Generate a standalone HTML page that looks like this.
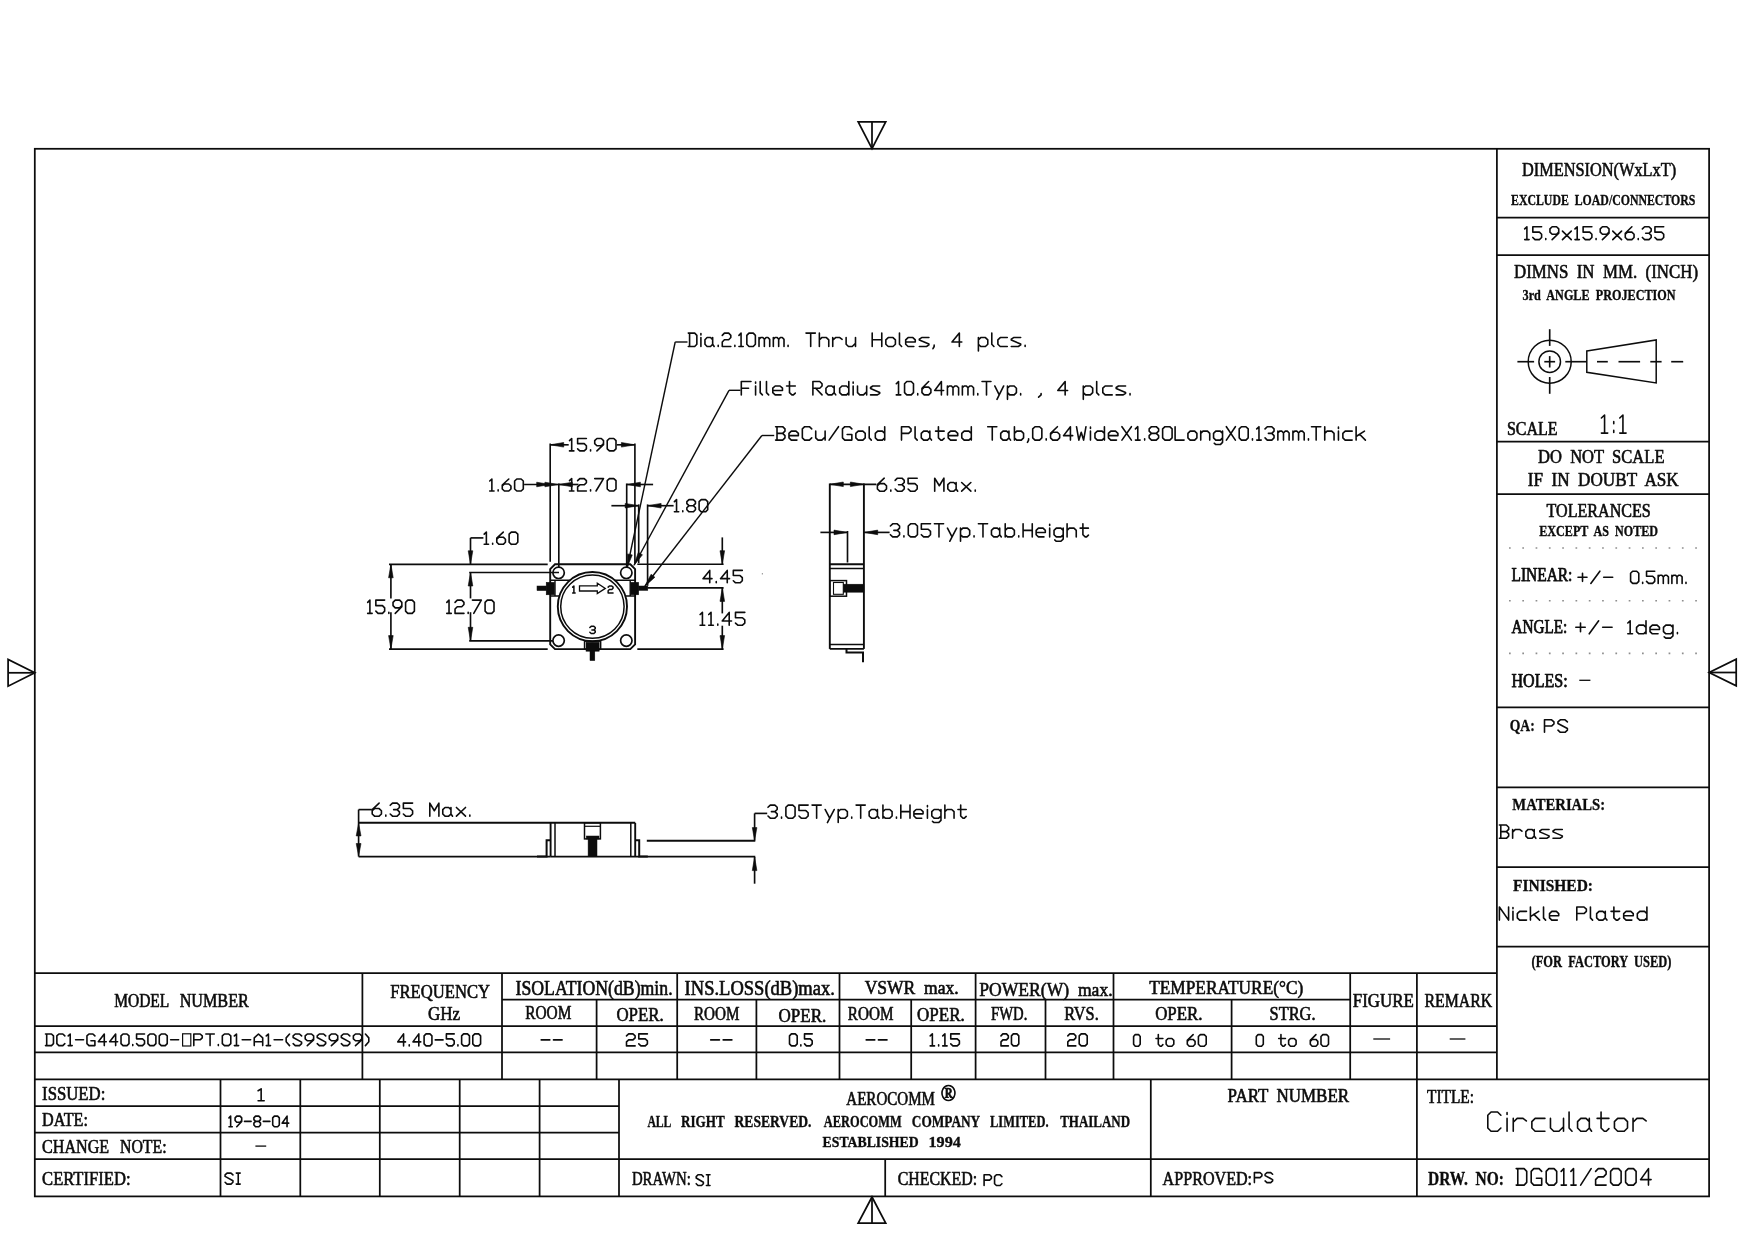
<!DOCTYPE html>
<html><head><meta charset="utf-8"><title>Circulator DG011/2004</title>
<style>
html,body{margin:0;padding:0;background:#fff;}
body{width:1754px;height:1240px;overflow:hidden;font-family:"Liberation Sans",sans-serif;}
svg{display:block;will-change:transform;}
svg line,svg polyline,svg polygon,svg rect,svg circle,svg path{stroke:#0c0c0c;}
svg text{white-space:pre;}
</style></head><body>
<svg width="1754" height="1240" viewBox="0 0 1754 1240">
<rect x="0" y="0" width="1754" height="1240" fill="#fff" stroke="none" style="stroke:none"/>
<rect x="34.8" y="148.8" width="1674.3" height="1047.6000000000001" fill="none" stroke-width="1.75"/>
<line x1="1496.9" y1="148.8" x2="1496.9" y2="1079.3" stroke-width="1.75" />
<line x1="1496.9" y1="217.7" x2="1709.1" y2="217.7" stroke-width="1.75" />
<line x1="1496.9" y1="255.1" x2="1709.1" y2="255.1" stroke-width="1.75" />
<line x1="1496.9" y1="441.5" x2="1709.1" y2="441.5" stroke-width="1.75" />
<line x1="1496.9" y1="494" x2="1709.1" y2="494" stroke-width="1.75" />
<line x1="1496.9" y1="707.3" x2="1709.1" y2="707.3" stroke-width="1.75" />
<line x1="1496.9" y1="787.3" x2="1709.1" y2="787.3" stroke-width="1.75" />
<line x1="1496.9" y1="867" x2="1709.1" y2="867" stroke-width="1.75" />
<line x1="1496.9" y1="946.7" x2="1709.1" y2="946.7" stroke-width="1.75" />
<line x1="1509" y1="548" x2="1700" y2="548" style="stroke:#8e8e8e" stroke-width="1.6" stroke-dasharray="1.7 11.6"/>
<line x1="1509" y1="600.8" x2="1700" y2="600.8" style="stroke:#8e8e8e" stroke-width="1.6" stroke-dasharray="1.7 11.6"/>
<line x1="1509" y1="653.4" x2="1700" y2="653.4" style="stroke:#8e8e8e" stroke-width="1.6" stroke-dasharray="1.7 11.6"/>
<polygon points="858.2,121.8 885.7,121.8 872,148.7" fill="none" stroke-width="1.75" />
<line x1="872" y1="121.8" x2="872" y2="148.7" stroke-width="1.75" />
<polygon points="858.2,1223.1 885.7,1223.1 872,1197" fill="none" stroke-width="1.75" />
<line x1="872" y1="1223.1" x2="872" y2="1197" stroke-width="1.75" />
<polygon points="8.1,659.4 8.1,686.2 34.8,672.8" fill="none" stroke-width="1.75" />
<line x1="8.1" y1="672.8" x2="34.8" y2="672.8" stroke-width="1.75" />
<polygon points="1736.2,659.1 1736.2,685.9 1709.1,672.5" fill="none" stroke-width="1.75" />
<line x1="1736.2" y1="672.5" x2="1709.1" y2="672.5" stroke-width="1.75" />
<line x1="34.8" y1="973" x2="1496.9" y2="973" stroke-width="1.75" />
<line x1="34.8" y1="1026.2" x2="1496.9" y2="1026.2" stroke-width="1.75" />
<line x1="34.8" y1="1052.4" x2="1496.9" y2="1052.4" stroke-width="1.75" />
<line x1="34.8" y1="1079.3" x2="1709.1" y2="1079.3" stroke-width="1.75" />
<line x1="502" y1="999.7" x2="1350.2" y2="999.7" stroke-width="1.75" />
<line x1="362.4" y1="973" x2="362.4" y2="1079.3" stroke-width="1.75" />
<line x1="502" y1="973" x2="502" y2="1079.3" stroke-width="1.75" />
<line x1="677.2" y1="973" x2="677.2" y2="1079.3" stroke-width="1.75" />
<line x1="839.5" y1="973" x2="839.5" y2="1079.3" stroke-width="1.75" />
<line x1="975.6" y1="973" x2="975.6" y2="1079.3" stroke-width="1.75" />
<line x1="1113.5" y1="973" x2="1113.5" y2="1079.3" stroke-width="1.75" />
<line x1="1350.2" y1="973" x2="1350.2" y2="1079.3" stroke-width="1.75" />
<line x1="1416.9" y1="973" x2="1416.9" y2="1079.3" stroke-width="1.75" />
<line x1="596.6" y1="999.7" x2="596.6" y2="1079.3" stroke-width="1.75" />
<line x1="756.4" y1="999.7" x2="756.4" y2="1079.3" stroke-width="1.75" />
<line x1="911.2" y1="999.7" x2="911.2" y2="1079.3" stroke-width="1.75" />
<line x1="1045.5" y1="999.7" x2="1045.5" y2="1079.3" stroke-width="1.75" />
<line x1="1231.6" y1="999.7" x2="1231.6" y2="1079.3" stroke-width="1.75" />
<line x1="34.8" y1="1106.2" x2="619" y2="1106.2" stroke-width="1.75" />
<line x1="34.8" y1="1132.5" x2="619" y2="1132.5" stroke-width="1.75" />
<line x1="34.8" y1="1159.2" x2="1709.1" y2="1159.2" stroke-width="1.75" />
<line x1="220.5" y1="1079.3" x2="220.5" y2="1196.4" stroke-width="1.75" />
<line x1="300.3" y1="1079.3" x2="300.3" y2="1196.4" stroke-width="1.75" />
<line x1="379.8" y1="1079.3" x2="379.8" y2="1196.4" stroke-width="1.75" />
<line x1="459.7" y1="1079.3" x2="459.7" y2="1196.4" stroke-width="1.75" />
<line x1="539.6" y1="1079.3" x2="539.6" y2="1196.4" stroke-width="1.75" />
<line x1="619" y1="1079.3" x2="619" y2="1196.4" stroke-width="1.75" />
<line x1="1150.8" y1="1079.3" x2="1150.8" y2="1196.4" stroke-width="1.75" />
<line x1="1416.9" y1="1079.3" x2="1416.9" y2="1196.4" stroke-width="1.75" />
<line x1="885.2" y1="1159.2" x2="885.2" y2="1196.4" stroke-width="1.75" />
<text x="114.2" y="1006.5" font-family="Liberation Serif, serif" font-size="18.93" textLength="55.1" lengthAdjust="spacingAndGlyphs" fill="#0c0c0c" stroke="#0c0c0c" stroke-width="0.62" stroke-linejoin="round">MODEL</text>
<text x="179.7" y="1006.5" font-family="Liberation Serif, serif" font-size="18.93" textLength="69.1" lengthAdjust="spacingAndGlyphs" fill="#0c0c0c" stroke="#0c0c0c" stroke-width="0.62" stroke-linejoin="round">NUMBER</text>
<text x="390.3" y="998" font-family="Liberation Serif, serif" font-size="19.54" textLength="99.7" lengthAdjust="spacingAndGlyphs" fill="#0c0c0c" stroke="#0c0c0c" stroke-width="0.62" stroke-linejoin="round">FREQUENCY</text>
<text x="427.9" y="1020.1" font-family="Liberation Serif, serif" font-size="19.54" textLength="32.2" lengthAdjust="spacingAndGlyphs" fill="#0c0c0c" stroke="#0c0c0c" stroke-width="0.62" stroke-linejoin="round">GHz</text>
<text x="515.5" y="994.9" font-family="Liberation Serif, serif" font-size="20.15" textLength="157.1" lengthAdjust="spacingAndGlyphs" fill="#0c0c0c" stroke="#0c0c0c" stroke-width="0.62" stroke-linejoin="round">ISOLATION(dB)min.</text>
<text x="525.2" y="1018.9" font-family="Liberation Serif, serif" font-size="18.93" textLength="46.2" lengthAdjust="spacingAndGlyphs" fill="#0c0c0c" stroke="#0c0c0c" stroke-width="0.62" stroke-linejoin="round">ROOM</text>
<text x="616.4" y="1021.3" font-family="Liberation Serif, serif" font-size="19.54" textLength="47.3" lengthAdjust="spacingAndGlyphs" fill="#0c0c0c" stroke="#0c0c0c" stroke-width="0.62" stroke-linejoin="round">OPER.</text>
<text x="684.6" y="994.8" font-family="Liberation Serif, serif" font-size="20.15" textLength="150.3" lengthAdjust="spacingAndGlyphs" fill="#0c0c0c" stroke="#0c0c0c" stroke-width="0.62" stroke-linejoin="round">INS.LOSS(dB)max.</text>
<text x="693.9" y="1020" font-family="Liberation Serif, serif" font-size="18.93" textLength="45.5" lengthAdjust="spacingAndGlyphs" fill="#0c0c0c" stroke="#0c0c0c" stroke-width="0.62" stroke-linejoin="round">ROOM</text>
<text x="778.5" y="1022.2" font-family="Liberation Serif, serif" font-size="19.54" textLength="47.8" lengthAdjust="spacingAndGlyphs" fill="#0c0c0c" stroke="#0c0c0c" stroke-width="0.62" stroke-linejoin="round">OPER.</text>
<text x="864.7" y="993.9" font-family="Liberation Serif, serif" font-size="18.93" textLength="93.9" lengthAdjust="spacingAndGlyphs" fill="#0c0c0c" stroke="#0c0c0c" stroke-width="0.62" stroke-linejoin="round">VSWR  max.</text>
<text x="847.8" y="1020" font-family="Liberation Serif, serif" font-size="18.93" textLength="45.6" lengthAdjust="spacingAndGlyphs" fill="#0c0c0c" stroke="#0c0c0c" stroke-width="0.62" stroke-linejoin="round">ROOM</text>
<text x="917.1" y="1020.7" font-family="Liberation Serif, serif" font-size="19.54" textLength="47.7" lengthAdjust="spacingAndGlyphs" fill="#0c0c0c" stroke="#0c0c0c" stroke-width="0.62" stroke-linejoin="round">OPER.</text>
<text x="979.3" y="996.3" font-family="Liberation Serif, serif" font-size="19.85" textLength="133.3" lengthAdjust="spacingAndGlyphs" fill="#0c0c0c" stroke="#0c0c0c" stroke-width="0.62" stroke-linejoin="round">POWER(W)  max.</text>
<text x="991" y="1020" font-family="Liberation Serif, serif" font-size="18.93" textLength="36.3" lengthAdjust="spacingAndGlyphs" fill="#0c0c0c" stroke="#0c0c0c" stroke-width="0.62" stroke-linejoin="round">FWD.</text>
<text x="1064.3" y="1020" font-family="Liberation Serif, serif" font-size="18.93" textLength="34.4" lengthAdjust="spacingAndGlyphs" fill="#0c0c0c" stroke="#0c0c0c" stroke-width="0.62" stroke-linejoin="round">RVS.</text>
<text x="1149.2" y="993.6" font-family="Liberation Serif, serif" font-size="19.85" textLength="154.0" lengthAdjust="spacingAndGlyphs" fill="#0c0c0c" stroke="#0c0c0c" stroke-width="0.62" stroke-linejoin="round">TEMPERATURE(°C)</text>
<text x="1155.2" y="1019.7" font-family="Liberation Serif, serif" font-size="18.63" textLength="47.3" lengthAdjust="spacingAndGlyphs" fill="#0c0c0c" stroke="#0c0c0c" stroke-width="0.62" stroke-linejoin="round">OPER.</text>
<text x="1269.6" y="1019.7" font-family="Liberation Serif, serif" font-size="18.63" textLength="45.9" lengthAdjust="spacingAndGlyphs" fill="#0c0c0c" stroke="#0c0c0c" stroke-width="0.62" stroke-linejoin="round">STRG.</text>
<text x="1352.8" y="1006.6" font-family="Liberation Serif, serif" font-size="18.93" textLength="61.1" lengthAdjust="spacingAndGlyphs" fill="#0c0c0c" stroke="#0c0c0c" stroke-width="0.62" stroke-linejoin="round">FIGURE</text>
<text x="1424.4" y="1006.6" font-family="Liberation Serif, serif" font-size="18.93" textLength="67.8" lengthAdjust="spacingAndGlyphs" fill="#0c0c0c" stroke="#0c0c0c" stroke-width="0.62" stroke-linejoin="round">REMARK</text>
<path d="M45.5 1045.6L51.48 1045.6L53.47 1043.67L53.47 1035.93L51.48 1034.0L45.5 1034.0 M46.7 1045.6L46.7 1034.0 M64.83 1035.93L62.83 1034.0L58.85 1034.0L56.86 1035.93L56.86 1043.67L58.85 1045.6L62.83 1045.6L64.83 1043.67 M68.21 1035.93L70.21 1034.0L70.21 1045.6 M68.21 1045.6L72.2 1045.6 M75.59 1039.8L83.56 1039.8 M94.91 1035.93L92.92 1034.0L88.94 1034.0L86.94 1035.93L86.94 1043.67L88.94 1045.6L94.91 1045.6L94.91 1040.77L90.93 1040.77 M104.28 1045.6L104.28 1034.0L98.3 1041.73L106.27 1041.73 M115.64 1045.6L115.64 1034.0L109.66 1041.73L117.63 1041.73 M123.01 1045.6L126.99 1045.6L128.99 1043.67L128.99 1035.93L126.99 1034.0L123.01 1034.0L121.02 1035.93L121.02 1043.67L123.01 1045.6 M132.77 1045.6L132.77 1044.54 M144.53 1034.0L136.56 1034.0L136.56 1038.83L142.54 1038.83L144.53 1040.77L144.53 1043.67L142.54 1045.6L138.55 1045.6L136.56 1043.67 M149.91 1045.6L153.89 1045.6L155.89 1043.67L155.89 1035.93L153.89 1034.0L149.91 1034.0L147.92 1035.93L147.92 1043.67L149.91 1045.6 M161.27 1045.6L165.25 1045.6L167.24 1043.67L167.24 1035.93L165.25 1034.0L161.27 1034.0L159.27 1035.93L159.27 1043.67L161.27 1045.6 M170.63 1039.8L178.6 1039.8" fill="none" stroke-width="1.6" stroke-linecap="round" stroke-linejoin="round"/>
<rect x="182.6" y="1033.8" width="8.2" height="12.2" fill="none" stroke-width="1.2"/>
<path d="M193.8 1045.6L193.8 1034.0L200.14 1034.0L202.25 1035.93L202.25 1037.87L200.14 1039.8L193.8 1039.8 M205.85 1034.0L214.3 1034.0 M210.07 1034.0L210.07 1045.6 M218.32 1045.6L218.32 1044.54 M224.45 1045.6L228.67 1045.6L230.79 1043.67L230.79 1035.93L228.67 1034.0L224.45 1034.0L222.33 1035.93L222.33 1043.67L224.45 1045.6 M234.38 1035.93L236.49 1034.0L236.49 1045.6 M234.38 1045.6L238.61 1045.6 M242.2 1039.8L250.65 1039.8 M254.25 1045.6L254.25 1037.87L258.47 1034.0L262.7 1037.87L262.7 1045.6 M254.25 1041.73L262.7 1041.73 M266.29 1035.93L268.41 1034.0L268.41 1045.6 M266.29 1045.6L270.52 1045.6 M274.11 1039.8L282.57 1039.8 M289.54 1034.0L286.16 1037.87L286.16 1041.73L289.54 1045.6 M301.59 1035.93L299.48 1034.0L295.25 1034.0L293.14 1035.93L293.14 1037.48L301.59 1042.12L301.59 1043.67L299.48 1045.6L295.25 1045.6L293.14 1043.67 M313.64 1038.83L311.52 1040.77L307.3 1040.77L305.18 1038.83L305.18 1035.93L307.3 1034.0L311.52 1034.0L313.64 1035.93L313.64 1039.8L307.3 1045.6 M325.68 1035.93L323.57 1034.0L319.34 1034.0L317.23 1035.93L317.23 1037.48L325.68 1042.12L325.68 1043.67L323.57 1045.6L319.34 1045.6L317.23 1043.67 M337.73 1038.83L335.62 1040.77L331.39 1040.77L329.28 1038.83L329.28 1035.93L331.39 1034.0L335.62 1034.0L337.73 1035.93L337.73 1039.8L331.39 1045.6 M349.78 1035.93L347.66 1034.0L343.44 1034.0L341.32 1035.93L341.32 1037.48L349.78 1042.12L349.78 1043.67L347.66 1045.6L343.44 1045.6L341.32 1043.67 M361.83 1038.83L359.71 1040.77L355.48 1040.77L353.37 1038.83L353.37 1035.93L355.48 1034.0L359.71 1034.0L361.83 1035.93L361.83 1039.8L355.48 1045.6 M365.42 1034.0L368.8 1037.87L368.8 1041.73L365.42 1045.6" fill="none" stroke-width="1.6" stroke-linecap="round" stroke-linejoin="round"/>
<path d="M403.57 1045.9L403.57 1033.9L397.7 1041.9L405.52 1041.9 M409.24 1045.9L409.24 1044.8 M418.82 1045.9L418.82 1033.9L412.95 1041.9L420.77 1041.9 M426.05 1045.9L429.96 1045.9L431.92 1043.9L431.92 1035.9L429.96 1033.9L426.05 1033.9L424.1 1035.9L424.1 1043.9L426.05 1045.9 M435.24 1039.9L443.06 1039.9 M454.2 1033.9L446.38 1033.9L446.38 1038.9L452.25 1038.9L454.2 1040.9L454.2 1043.9L452.25 1045.9L448.34 1045.9L446.38 1043.9 M457.92 1045.9L457.92 1044.8 M463.59 1045.9L467.5 1045.9L469.46 1043.9L469.46 1035.9L467.5 1033.9L463.59 1033.9L461.63 1035.9L461.63 1043.9L463.59 1045.9 M474.73 1045.9L478.64 1045.9L480.6 1043.9L480.6 1035.9L478.64 1033.9L474.73 1033.9L472.78 1035.9L472.78 1043.9L474.73 1045.9" fill="none" stroke-width="1.6" stroke-linecap="round" stroke-linejoin="round"/>
<path d="M541.2 1039.9L549.82 1039.9 M553.48 1039.9L562.1 1039.9" fill="none" stroke-width="1.6" stroke-linecap="round" stroke-linejoin="round"/>
<path d="M626.5 1035.9L628.65 1033.9L632.96 1033.9L635.12 1035.9L635.12 1037.9L632.96 1039.9L628.65 1039.9L626.5 1041.9L626.5 1045.9L635.12 1045.9 M647.4 1033.9L638.78 1033.9L638.78 1038.9L645.25 1038.9L647.4 1040.9L647.4 1043.9L645.25 1045.9L640.94 1045.9L638.78 1043.9" fill="none" stroke-width="1.6" stroke-linecap="round" stroke-linejoin="round"/>
<path d="M710.7 1039.9L719.44 1039.9 M723.16 1039.9L731.9 1039.9" fill="none" stroke-width="1.6" stroke-linecap="round" stroke-linejoin="round"/>
<path d="M791.42 1045.9L795.27 1045.9L797.19 1043.9L797.19 1035.9L795.27 1033.9L791.42 1033.9L789.5 1035.9L789.5 1043.9L791.42 1045.9 M800.85 1045.9L800.85 1044.8 M812.2 1033.9L804.51 1033.9L804.51 1038.9L810.28 1038.9L812.2 1040.9L812.2 1043.9L810.28 1045.9L806.43 1045.9L804.51 1043.9" fill="none" stroke-width="1.6" stroke-linecap="round" stroke-linejoin="round"/>
<path d="M866.2 1039.9L874.78 1039.9 M878.42 1039.9L887.0 1039.9" fill="none" stroke-width="1.6" stroke-linecap="round" stroke-linejoin="round"/>
<path d="M930.2 1035.9L932.36 1033.9L932.36 1045.9 M930.2 1045.9L934.53 1045.9 M938.64 1045.9L938.64 1044.8 M942.75 1035.9L944.91 1033.9L944.91 1045.9 M942.75 1045.9L947.07 1045.9 M959.4 1033.9L950.75 1033.9L950.75 1038.9L957.24 1038.9L959.4 1040.9L959.4 1043.9L957.24 1045.9L952.91 1045.9L950.75 1043.9" fill="none" stroke-width="1.6" stroke-linecap="round" stroke-linejoin="round"/>
<path d="M1001.0 1035.9L1002.84 1033.9L1006.51 1033.9L1008.34 1035.9L1008.34 1037.9L1006.51 1039.9L1002.84 1039.9L1001.0 1041.9L1001.0 1045.9L1008.34 1045.9 M1013.29 1045.9L1016.96 1045.9L1018.8 1043.9L1018.8 1035.9L1016.96 1033.9L1013.29 1033.9L1011.46 1035.9L1011.46 1043.9L1013.29 1045.9" fill="none" stroke-width="1.6" stroke-linecap="round" stroke-linejoin="round"/>
<path d="M1067.8 1035.9L1069.8 1033.9L1073.8 1033.9L1075.8 1035.9L1075.8 1037.9L1073.8 1039.9L1069.8 1039.9L1067.8 1041.9L1067.8 1045.9L1075.8 1045.9 M1081.2 1045.9L1085.2 1045.9L1087.2 1043.9L1087.2 1035.9L1085.2 1033.9L1081.2 1033.9L1079.2 1035.9L1079.2 1043.9L1081.2 1045.9" fill="none" stroke-width="1.6" stroke-linecap="round" stroke-linejoin="round"/>
<path d="M1135.25 1046.2L1138.55 1046.2L1140.2 1044.27L1140.2 1036.53L1138.55 1034.6L1135.25 1034.6L1133.6 1036.53L1133.6 1044.27L1135.25 1046.2" fill="none" stroke-width="1.6" stroke-linecap="round" stroke-linejoin="round"/>
<path d="M1158.3 1034.6L1158.3 1044.27L1160.21 1046.2L1161.36 1046.2L1162.89 1044.65 M1156.0 1038.47L1162.89 1038.47 M1168.06 1046.2L1171.89 1046.2L1173.8 1044.27L1173.8 1040.4L1171.89 1038.47L1168.06 1038.47L1166.14 1040.4L1166.14 1044.27L1168.06 1046.2" fill="none" stroke-width="1.6" stroke-linecap="round" stroke-linejoin="round"/>
<path d="M1187.3 1041.37L1189.25 1039.43L1193.15 1039.43L1195.09 1041.37L1195.09 1044.27L1193.15 1046.2L1189.25 1046.2L1187.3 1044.27L1187.3 1040.4L1193.15 1034.6 M1200.35 1046.2L1204.25 1046.2L1206.2 1044.27L1206.2 1036.53L1204.25 1034.6L1200.35 1034.6L1198.41 1036.53L1198.41 1044.27L1200.35 1046.2" fill="none" stroke-width="1.6" stroke-linecap="round" stroke-linejoin="round"/>
<path d="M1258.05 1046.2L1261.55 1046.2L1263.3 1044.27L1263.3 1036.53L1261.55 1034.6L1258.05 1034.6L1256.3 1036.53L1256.3 1044.27L1258.05 1046.2" fill="none" stroke-width="1.6" stroke-linecap="round" stroke-linejoin="round"/>
<path d="M1280.95 1034.6L1280.95 1044.27L1282.82 1046.2L1283.94 1046.2L1285.44 1044.65 M1278.7 1038.47L1285.44 1038.47 M1290.49 1046.2L1294.23 1046.2L1296.1 1044.27L1296.1 1040.4L1294.23 1038.47L1290.49 1038.47L1288.62 1040.4L1288.62 1044.27L1290.49 1046.2" fill="none" stroke-width="1.6" stroke-linecap="round" stroke-linejoin="round"/>
<path d="M1310.3 1041.37L1312.18 1039.43L1315.93 1039.43L1317.81 1041.37L1317.81 1044.27L1315.93 1046.2L1312.18 1046.2L1310.3 1044.27L1310.3 1040.4L1315.93 1034.6 M1322.87 1046.2L1326.62 1046.2L1328.5 1044.27L1328.5 1036.53L1326.62 1034.6L1322.87 1034.6L1320.99 1036.53L1320.99 1044.27L1322.87 1046.2" fill="none" stroke-width="1.6" stroke-linecap="round" stroke-linejoin="round"/>
<line x1="1373.3" y1="1039" x2="1390.1" y2="1039" stroke-width="1.3" />
<line x1="1449.7" y1="1039" x2="1465.4" y2="1039" stroke-width="1.3" />
<text x="42.1" y="1099.6" font-family="Liberation Serif, serif" font-size="18.93" textLength="63.2" lengthAdjust="spacingAndGlyphs" fill="#0c0c0c" stroke="#0c0c0c" stroke-width="0.62" stroke-linejoin="round">ISSUED:</text>
<path d="M258.1 1090.78L261.15 1088.8L261.15 1100.7 M258.1 1100.7L264.2 1100.7" fill="none" stroke-width="1.6" stroke-linecap="round" stroke-linejoin="round"/>
<text x="42.1" y="1126" font-family="Liberation Serif, serif" font-size="18.63" textLength="45.8" lengthAdjust="spacingAndGlyphs" fill="#0c0c0c" stroke="#0c0c0c" stroke-width="0.62" stroke-linejoin="round">DATE:</text>
<path d="M229.0 1117.87L230.65 1116.1L230.65 1126.7 M229.0 1126.7L232.3 1126.7 M241.7 1120.52L240.05 1122.28L236.75 1122.28L235.1 1120.52L235.1 1117.87L236.75 1116.1L240.05 1116.1L241.7 1117.87L241.7 1121.4L236.75 1126.7 M244.5 1121.4L251.1 1121.4 M255.55 1121.4L253.9 1119.63L253.9 1117.87L255.55 1116.1L258.85 1116.1L260.5 1117.87L260.5 1119.63L258.85 1121.4L255.55 1121.4L253.9 1123.17L253.9 1124.93L255.55 1126.7L258.85 1126.7L260.5 1124.93L260.5 1123.17L258.85 1121.4 M263.3 1121.4L269.9 1121.4 M274.35 1126.7L277.65 1126.7L279.3 1124.93L279.3 1117.87L277.65 1116.1L274.35 1116.1L272.7 1117.87L272.7 1124.93L274.35 1126.7 M287.05 1126.7L287.05 1116.1L282.1 1123.17L288.7 1123.17" fill="none" stroke-width="1.6" stroke-linecap="round" stroke-linejoin="round"/>
<text x="42.1" y="1153.1" font-family="Liberation Serif, serif" font-size="19.24" textLength="67.1" lengthAdjust="spacingAndGlyphs" fill="#0c0c0c" stroke="#0c0c0c" stroke-width="0.62" stroke-linejoin="round">CHANGE</text>
<text x="120" y="1153.1" font-family="Liberation Serif, serif" font-size="19.24" textLength="46.6" lengthAdjust="spacingAndGlyphs" fill="#0c0c0c" stroke="#0c0c0c" stroke-width="0.62" stroke-linejoin="round">NOTE:</text>
<line x1="255.4" y1="1146.1" x2="266.2" y2="1146.1" stroke-width="1.3" />
<text x="42.1" y="1184.9" font-family="Liberation Serif, serif" font-size="19.24" textLength="88.4" lengthAdjust="spacingAndGlyphs" fill="#0c0c0c" stroke="#0c0c0c" stroke-width="0.62" stroke-linejoin="round">CERTIFIED:</text>
<path d="M232.94 1174.93L230.98 1173.1L227.06 1173.1L225.1 1174.93L225.1 1176.4L232.94 1180.8L232.94 1182.27L230.98 1184.1L227.06 1184.1L225.1 1182.27 M236.28 1173.1L240.2 1173.1 M238.24 1173.1L238.24 1184.1 M236.28 1184.1L240.2 1184.1" fill="none" stroke-width="1.6" stroke-linecap="round" stroke-linejoin="round"/>
<text x="631.9" y="1184.9" font-family="Liberation Serif, serif" font-size="19.24" textLength="58.9" lengthAdjust="spacingAndGlyphs" fill="#0c0c0c" stroke="#0c0c0c" stroke-width="0.62" stroke-linejoin="round">DRAWN:</text>
<path d="M703.37 1176.58L701.58 1174.8L697.99 1174.8L696.2 1176.58L696.2 1178.01L703.37 1182.29L703.37 1183.72L701.58 1185.5L697.99 1185.5L696.2 1183.72 M706.42 1174.8L710.0 1174.8 M708.21 1174.8L708.21 1185.5 M706.42 1185.5L710.0 1185.5" fill="none" stroke-width="1.6" stroke-linecap="round" stroke-linejoin="round"/>
<text x="897.7" y="1184.8" font-family="Liberation Serif, serif" font-size="18.93" textLength="79.4" lengthAdjust="spacingAndGlyphs" fill="#0c0c0c" stroke="#0c0c0c" stroke-width="0.62" stroke-linejoin="round">CHECKED:</text>
<path d="M984.1 1185.5L984.1 1174.8L989.61 1174.8L991.44 1176.58L991.44 1178.37L989.61 1180.15L984.1 1180.15 M1001.9 1176.58L1000.06 1174.8L996.39 1174.8L994.56 1176.58L994.56 1183.72L996.39 1185.5L1000.06 1185.5L1001.9 1183.72" fill="none" stroke-width="1.6" stroke-linecap="round" stroke-linejoin="round"/>
<text x="1162.6" y="1184.8" font-family="Liberation Serif, serif" font-size="19.54" textLength="89.5" lengthAdjust="spacingAndGlyphs" fill="#0c0c0c" stroke="#0c0c0c" stroke-width="0.62" stroke-linejoin="round">APPROVED:</text>
<path d="M1254.4 1182.6L1254.4 1172.6L1260.03 1172.6L1261.91 1174.27L1261.91 1175.93L1260.03 1177.6L1254.4 1177.6 M1272.6 1174.27L1270.72 1172.6L1266.97 1172.6L1265.09 1174.27L1265.09 1175.6L1272.6 1179.6L1272.6 1180.93L1270.72 1182.6L1266.97 1182.6L1265.09 1180.93" fill="none" stroke-width="1.6" stroke-linecap="round" stroke-linejoin="round"/>
<text x="846.3" y="1104.7" font-family="Liberation Serif, serif" font-size="18.02" textLength="88.6" lengthAdjust="spacingAndGlyphs" fill="#0c0c0c" stroke="#0c0c0c" stroke-width="0.62" stroke-linejoin="round">AEROCOMM</text>
<text x="940.8" y="1101" font-family="Liberation Serif, serif" font-size="22.6" textLength="15.4" lengthAdjust="spacingAndGlyphs" fill="#0c0c0c" stroke="#0c0c0c" stroke-width="0.9" stroke-linejoin="round">®</text>
<text x="647.4" y="1126.9" font-family="Liberation Serif, serif" font-size="15.88" font-weight="bold" textLength="24.0" lengthAdjust="spacingAndGlyphs" fill="#0c0c0c" stroke="#0c0c0c" stroke-width="0.35" stroke-linejoin="round">ALL</text>
<text x="680.9" y="1126.9" font-family="Liberation Serif, serif" font-size="15.88" font-weight="bold" textLength="43.8" lengthAdjust="spacingAndGlyphs" fill="#0c0c0c" stroke="#0c0c0c" stroke-width="0.35" stroke-linejoin="round">RIGHT</text>
<text x="734.5" y="1126.9" font-family="Liberation Serif, serif" font-size="15.88" font-weight="bold" textLength="77.0" lengthAdjust="spacingAndGlyphs" fill="#0c0c0c" stroke="#0c0c0c" stroke-width="0.35" stroke-linejoin="round">RESERVED.</text>
<text x="823.8" y="1126.9" font-family="Liberation Serif, serif" font-size="15.88" font-weight="bold" textLength="77.9" lengthAdjust="spacingAndGlyphs" fill="#0c0c0c" stroke="#0c0c0c" stroke-width="0.35" stroke-linejoin="round">AEROCOMM</text>
<text x="911.8" y="1126.9" font-family="Liberation Serif, serif" font-size="15.88" font-weight="bold" textLength="68.4" lengthAdjust="spacingAndGlyphs" fill="#0c0c0c" stroke="#0c0c0c" stroke-width="0.35" stroke-linejoin="round">COMPANY</text>
<text x="990" y="1126.9" font-family="Liberation Serif, serif" font-size="15.88" font-weight="bold" textLength="58.5" lengthAdjust="spacingAndGlyphs" fill="#0c0c0c" stroke="#0c0c0c" stroke-width="0.35" stroke-linejoin="round">LIMITED.</text>
<text x="1060.2" y="1126.9" font-family="Liberation Serif, serif" font-size="15.88" font-weight="bold" textLength="69.9" lengthAdjust="spacingAndGlyphs" fill="#0c0c0c" stroke="#0c0c0c" stroke-width="0.35" stroke-linejoin="round">THAILAND</text>
<text x="822.6" y="1147.2" font-family="Liberation Serif, serif" font-size="15.57" font-weight="bold" textLength="96.0" lengthAdjust="spacingAndGlyphs" fill="#0c0c0c" stroke="#0c0c0c" stroke-width="0.35" stroke-linejoin="round">ESTABLISHED</text>
<text x="928.5" y="1147.2" font-family="Liberation Serif, serif" font-size="15.57" font-weight="bold" textLength="32.3" lengthAdjust="spacingAndGlyphs" fill="#0c0c0c" stroke="#0c0c0c" stroke-width="0.35" stroke-linejoin="round">1994</text>
<text x="1227.5" y="1101.7" font-family="Liberation Serif, serif" font-size="18.32" textLength="121.6" lengthAdjust="spacingAndGlyphs" fill="#0c0c0c" stroke="#0c0c0c" stroke-width="0.62" stroke-linejoin="round">PART  NUMBER</text>
<text x="1427" y="1102.8" font-family="Liberation Serif, serif" font-size="18.63" textLength="47" lengthAdjust="spacingAndGlyphs" fill="#0c0c0c" stroke="#0c0c0c" stroke-width="0.62" stroke-linejoin="round">TITLE:</text>
<path d="M1500.86 1115.2L1497.59 1112.0L1491.06 1112.0L1487.8 1115.2L1487.8 1128.0L1491.06 1131.2L1497.59 1131.2L1500.86 1128.0 M1507.06 1131.2L1507.06 1118.4 M1507.06 1114.56L1507.06 1112.64 M1513.26 1118.4L1513.26 1131.2 M1513.26 1122.24L1517.18 1118.4L1523.05 1118.4L1526.31 1120.96 M1544.92 1118.4L1535.13 1118.4L1531.86 1121.6L1531.86 1128.0L1535.13 1131.2L1544.92 1131.2 M1550.47 1118.4L1550.47 1128.0L1553.73 1131.2L1558.95 1131.2L1563.52 1126.72 M1563.52 1118.4L1563.52 1131.2 M1569.07 1112.0L1569.07 1128.0L1572.01 1131.2 M1589.31 1121.6L1586.04 1118.4L1580.82 1118.4L1577.56 1121.6L1577.56 1128.0L1580.82 1131.2L1586.04 1131.2L1589.31 1128.0 M1589.31 1118.4L1589.31 1128.0L1591.59 1131.2 M1601.06 1112.0L1601.06 1128.0L1604.32 1131.2L1606.28 1131.2L1608.89 1128.64 M1597.14 1118.4L1608.89 1118.4 M1617.7 1131.2L1624.23 1131.2L1627.5 1128.0L1627.5 1121.6L1624.23 1118.4L1617.7 1118.4L1614.44 1121.6L1614.44 1128.0L1617.7 1131.2 M1633.04 1118.4L1633.04 1131.2 M1633.04 1122.24L1636.96 1118.4L1642.84 1118.4L1646.1 1120.96" fill="none" stroke-width="1.6" stroke-linecap="round" stroke-linejoin="round"/>
<text x="1428.1" y="1184.8" font-family="Liberation Serif, serif" font-size="19.24" font-weight="bold" textLength="75.7" lengthAdjust="spacingAndGlyphs" fill="#0c0c0c" stroke="#0c0c0c" stroke-width="0.35" stroke-linejoin="round">DRW.  NO:</text>
<path d="M1516.2 1185.1L1524.09 1185.1L1526.72 1182.35L1526.72 1171.35L1524.09 1168.6L1516.2 1168.6 M1517.78 1185.1L1517.78 1168.6 M1541.71 1171.35L1539.08 1168.6L1533.82 1168.6L1531.19 1171.35L1531.19 1182.35L1533.82 1185.1L1541.71 1185.1L1541.71 1178.23L1536.45 1178.23 M1548.81 1185.1L1554.07 1185.1L1556.7 1182.35L1556.7 1171.35L1554.07 1168.6L1548.81 1168.6L1546.18 1171.35L1546.18 1182.35L1548.81 1185.1 M1561.17 1171.35L1563.8 1168.6L1563.8 1185.1 M1561.17 1185.1L1566.43 1185.1 M1570.9 1171.35L1573.53 1168.6L1573.53 1185.1 M1570.9 1185.1L1576.16 1185.1 M1580.63 1185.1L1591.14 1168.6 M1595.61 1171.35L1598.24 1168.6L1603.5 1168.6L1606.13 1171.35L1606.13 1174.1L1603.5 1176.85L1598.24 1176.85L1595.61 1179.6L1595.61 1185.1L1606.13 1185.1 M1613.23 1185.1L1618.49 1185.1L1621.12 1182.35L1621.12 1171.35L1618.49 1168.6L1613.23 1168.6L1610.6 1171.35L1610.6 1182.35L1613.23 1185.1 M1628.22 1185.1L1633.48 1185.1L1636.11 1182.35L1636.11 1171.35L1633.48 1168.6L1628.22 1168.6L1625.59 1171.35L1625.59 1182.35L1628.22 1185.1 M1648.47 1185.1L1648.47 1168.6L1640.58 1179.6L1651.1 1179.6" fill="none" stroke-width="1.6" stroke-linecap="round" stroke-linejoin="round"/>
<text x="1522" y="176.4" font-family="Liberation Serif, serif" font-size="19.69" textLength="154.1" lengthAdjust="spacingAndGlyphs" fill="#0c0c0c" stroke="#0c0c0c" stroke-width="0.62" stroke-linejoin="round">DIMENSION(WxLxT)</text>
<text x="1511" y="204.8" font-family="Liberation Serif, serif" font-size="15.57" font-weight="bold" textLength="184.4" lengthAdjust="spacingAndGlyphs" fill="#0c0c0c" stroke="#0c0c0c" stroke-width="0.35" stroke-linejoin="round">EXCLUDE  LOAD/CONNECTORS</text>
<path d="M1524.7 228.93L1526.9 226.8L1526.9 239.6 M1524.7 239.6L1529.09 239.6 M1541.61 226.8L1532.82 226.8L1532.82 232.13L1539.41 232.13L1541.61 234.27L1541.61 237.47L1539.41 239.6L1535.02 239.6L1532.82 237.47 M1545.78 239.6L1545.78 238.43 M1558.74 232.13L1556.54 234.27L1552.15 234.27L1549.95 232.13L1549.95 228.93L1552.15 226.8L1556.54 226.8L1558.74 228.93L1558.74 233.2L1552.15 239.6 M1562.47 239.6L1571.25 231.07 M1562.47 231.07L1571.25 239.6 M1574.99 228.93L1577.18 226.8L1577.18 239.6 M1574.99 239.6L1579.38 239.6 M1591.89 226.8L1583.11 226.8L1583.11 232.13L1589.7 232.13L1591.89 234.27L1591.89 237.47L1589.7 239.6L1585.31 239.6L1583.11 237.47 M1596.07 239.6L1596.07 238.43 M1609.02 232.13L1606.83 234.27L1602.43 234.27L1600.24 232.13L1600.24 228.93L1602.43 226.8L1606.83 226.8L1609.02 228.93L1609.02 233.2L1602.43 239.6 M1612.76 239.6L1621.54 231.07 M1612.76 231.07L1621.54 239.6 M1625.27 234.27L1627.47 232.13L1631.86 232.13L1634.06 234.27L1634.06 237.47L1631.86 239.6L1627.47 239.6L1625.27 237.47L1625.27 233.2L1631.86 226.8 M1638.23 239.6L1638.23 238.43 M1642.4 228.93L1644.6 226.8L1648.99 226.8L1651.18 228.93L1651.18 231.07L1648.99 233.2L1651.18 235.33L1651.18 237.47L1648.99 239.6L1644.6 239.6L1642.4 237.47 M1645.69 233.2L1648.99 233.2 M1663.7 226.8L1654.92 226.8L1654.92 232.13L1661.5 232.13L1663.7 234.27L1663.7 237.47L1661.5 239.6L1657.11 239.6L1654.92 237.47" fill="none" stroke-width="1.6" stroke-linecap="round" stroke-linejoin="round"/>
<text x="1514" y="278.3" font-family="Liberation Serif, serif" font-size="19.69" textLength="184" lengthAdjust="spacingAndGlyphs" fill="#0c0c0c" stroke="#0c0c0c" stroke-width="0.62" stroke-linejoin="round">DIMNS  IN  MM.  (INCH)</text>
<text x="1522.6" y="300.3" font-family="Liberation Serif, serif" font-size="14.96" font-weight="bold" textLength="153.0" lengthAdjust="spacingAndGlyphs" fill="#0c0c0c" stroke="#0c0c0c" stroke-width="0.35" stroke-linejoin="round">3rd  ANGLE  PROJECTION</text>
<text x="1506.9" y="434.5" font-family="Liberation Serif, serif" font-size="18.32" textLength="50.6" lengthAdjust="spacingAndGlyphs" fill="#0c0c0c" stroke="#0c0c0c" stroke-width="0.62" stroke-linejoin="round">SCALE</text>
<path d="M1601.4 418.02L1604.57 415.0L1604.57 433.1 M1601.4 433.1L1607.73 433.1 M1613.75 432.5L1613.75 430.38 M1613.75 423.75L1613.75 421.64 M1619.77 418.02L1622.93 415.0L1622.93 433.1 M1619.77 433.1L1626.1 433.1" fill="none" stroke-width="1.6" stroke-linecap="round" stroke-linejoin="round"/>
<text x="1538" y="463" font-family="Liberation Serif, serif" font-size="18.93" textLength="126.5" lengthAdjust="spacingAndGlyphs" fill="#0c0c0c" stroke="#0c0c0c" stroke-width="0.62" stroke-linejoin="round">DO  NOT  SCALE</text>
<text x="1527.7" y="485.5" font-family="Liberation Serif, serif" font-size="18.63" textLength="151.0" lengthAdjust="spacingAndGlyphs" fill="#0c0c0c" stroke="#0c0c0c" stroke-width="0.62" stroke-linejoin="round">IF  IN  DOUBT  ASK</text>
<text x="1546.6" y="516.9" font-family="Liberation Serif, serif" font-size="18.47" textLength="104.2" lengthAdjust="spacingAndGlyphs" fill="#0c0c0c" stroke="#0c0c0c" stroke-width="0.62" stroke-linejoin="round">TOLERANCES</text>
<text x="1539.3" y="535.8" font-family="Liberation Serif, serif" font-size="14.66" font-weight="bold" textLength="118.7" lengthAdjust="spacingAndGlyphs" fill="#0c0c0c" stroke="#0c0c0c" stroke-width="0.35" stroke-linejoin="round">EXCEPT  AS  NOTED</text>
<text x="1511.5" y="580.9" font-family="Liberation Serif, serif" font-size="18.47" textLength="60.9" lengthAdjust="spacingAndGlyphs" fill="#0c0c0c" stroke="#0c0c0c" stroke-width="0.75" stroke-linejoin="round">LINEAR:</text>
<path d="M1578.0 577.3L1587.01 577.3 M1582.51 581.37L1582.51 573.23 M1590.84 583.4L1599.86 571.2 M1603.69 577.3L1612.7 577.3" fill="none" stroke-width="1.6" stroke-linecap="round" stroke-linejoin="round"/>
<path d="M1632.64 583.4L1636.73 583.4L1638.78 581.37L1638.78 573.23L1636.73 571.2L1632.64 571.2L1630.6 573.23L1630.6 581.37L1632.64 583.4 M1642.66 583.4L1642.66 582.28 M1654.72 571.2L1646.54 571.2L1646.54 576.28L1652.67 576.28L1654.72 578.32L1654.72 581.37L1652.67 583.4L1648.59 583.4L1646.54 581.37 M1658.19 575.27L1658.19 583.4 M1658.19 576.89L1659.83 575.27L1661.87 575.27L1663.3 576.89L1663.3 583.4 M1663.3 576.89L1664.94 575.27L1666.78 575.27L1668.41 576.89L1668.41 583.4 M1671.89 575.27L1671.89 583.4 M1671.89 576.89L1673.52 575.27L1675.57 575.27L1677.0 576.89L1677.0 583.4 M1677.0 576.89L1678.63 575.27L1680.47 575.27L1682.11 576.89L1682.11 583.4 M1685.99 583.4L1685.99 582.28" fill="none" stroke-width="1.6" stroke-linecap="round" stroke-linejoin="round"/>
<text x="1511.5" y="633.3" font-family="Liberation Serif, serif" font-size="18.17" textLength="55.7" lengthAdjust="spacingAndGlyphs" fill="#0c0c0c" stroke="#0c0c0c" stroke-width="0.75" stroke-linejoin="round">ANGLE:</text>
<path d="M1575.8 627.3L1585.23 627.3 M1580.51 631.63L1580.51 622.97 M1589.24 633.8L1598.66 620.8 M1602.67 627.3L1612.1 627.3" fill="none" stroke-width="1.6" stroke-linecap="round" stroke-linejoin="round"/>
<path d="M1627.8 622.97L1630.16 620.8L1630.16 633.8 M1627.8 633.8L1632.53 633.8 M1646.0 620.8L1646.0 633.8 M1646.0 627.3L1643.63 625.13L1638.91 625.13L1636.54 627.3L1636.54 631.63L1638.91 633.8L1643.63 633.8L1646.0 631.63 M1650.01 629.47L1659.47 629.47L1659.47 627.3L1657.1 625.13L1652.38 625.13L1650.01 627.3L1650.01 631.63L1652.38 633.8L1658.05 633.8 M1672.94 627.3L1670.57 625.13L1665.85 625.13L1663.48 627.3L1663.48 631.63L1665.85 633.8L1670.57 633.8L1672.94 631.63 M1672.94 625.13L1672.94 635.97L1670.57 638.13L1665.85 638.13L1664.19 636.83 M1677.43 633.8L1677.43 632.61" fill="none" stroke-width="1.6" stroke-linecap="round" stroke-linejoin="round"/>
<text x="1511.5" y="686.7" font-family="Liberation Serif, serif" font-size="18.47" textLength="56.2" lengthAdjust="spacingAndGlyphs" fill="#0c0c0c" stroke="#0c0c0c" stroke-width="0.75" stroke-linejoin="round">HOLES:</text>
<line x1="1579.3" y1="680.3" x2="1590.4" y2="680.3" stroke-width="1.3" />
<text x="1509.7" y="730.6" font-family="Liberation Serif, serif" font-size="17.71" font-weight="bold" textLength="25.0" lengthAdjust="spacingAndGlyphs" fill="#0c0c0c" stroke="#0c0c0c" stroke-width="0.35" stroke-linejoin="round">QA:</text>
<path d="M1544.5 732.3L1544.5 719.8L1551.58 719.8L1553.94 721.88L1553.94 723.97L1551.58 726.05L1544.5 726.05 M1567.4 721.88L1565.04 719.8L1560.32 719.8L1557.96 721.88L1557.96 723.55L1567.4 728.55L1567.4 730.22L1565.04 732.3L1560.32 732.3L1557.96 730.22" fill="none" stroke-width="1.6" stroke-linecap="round" stroke-linejoin="round"/>
<text x="1512.3" y="810" font-family="Liberation Serif, serif" font-size="17.71" font-weight="bold" textLength="92.8" lengthAdjust="spacingAndGlyphs" fill="#0c0c0c" stroke="#0c0c0c" stroke-width="0.35" stroke-linejoin="round">MATERIALS:</text>
<path d="M1499.4 838.3L1506.36 838.3L1508.68 836.08L1508.68 833.87L1506.36 831.65L1508.68 829.43L1508.68 827.22L1506.36 825.0L1499.4 825.0 M1500.79 838.3L1500.79 825.0 M1500.79 831.65L1506.36 831.65 M1512.63 829.43L1512.63 838.3 M1512.63 832.09L1515.42 829.43L1519.59 829.43L1521.91 831.21 M1534.22 831.65L1531.89 829.43L1528.18 829.43L1525.86 831.65L1525.86 836.08L1528.18 838.3L1531.89 838.3L1534.22 836.08 M1534.22 829.43L1534.22 836.08L1535.84 838.3 M1549.07 829.43L1542.11 829.43L1539.79 830.99L1539.79 831.87L1549.07 835.86L1549.07 836.75L1546.75 838.3L1539.79 838.3 M1562.3 829.43L1555.34 829.43L1553.02 830.99L1553.02 831.87L1562.3 835.86L1562.3 836.75L1559.98 838.3L1553.02 838.3" fill="none" stroke-width="1.6" stroke-linecap="round" stroke-linejoin="round"/>
<text x="1513" y="891.2" font-family="Liberation Serif, serif" font-size="17.71" font-weight="bold" textLength="80" lengthAdjust="spacingAndGlyphs" fill="#0c0c0c" stroke="#0c0c0c" stroke-width="0.35" stroke-linejoin="round">FINISHED:</text>
<path d="M1499.4 920.1L1499.4 907.0L1508.59 920.1L1508.59 907.0 M1512.96 920.1L1512.96 911.37 M1512.96 908.75L1512.96 907.44 M1526.52 911.37L1519.63 911.37L1517.33 913.55L1517.33 917.92L1519.63 920.1L1526.52 920.1 M1530.43 907.0L1530.43 920.1 M1530.43 916.61L1538.7 911.37 M1533.88 914.42L1539.62 920.1 M1543.53 907.0L1543.53 917.92L1545.6 920.1 M1549.51 915.73L1558.7 915.73L1558.7 913.55L1556.4 911.37L1551.8 911.37L1549.51 913.55L1549.51 917.92L1551.8 920.1L1557.32 920.1" fill="none" stroke-width="1.6" stroke-linecap="round" stroke-linejoin="round"/>
<path d="M1576.8 920.1L1576.8 907.0L1583.98 907.0L1586.37 909.18L1586.37 911.37L1583.98 913.55L1576.8 913.55 M1590.44 907.0L1590.44 917.92L1592.59 920.1 M1605.27 913.55L1602.88 911.37L1599.05 911.37L1596.66 913.55L1596.66 917.92L1599.05 920.1L1602.88 920.1L1605.27 917.92 M1605.27 911.37L1605.27 917.92L1606.95 920.1 M1613.88 907.0L1613.88 917.92L1616.28 920.1L1617.71 920.1L1619.63 918.35 M1611.01 911.37L1619.63 911.37 M1623.69 915.73L1633.26 915.73L1633.26 913.55L1630.87 911.37L1626.09 911.37L1623.69 913.55L1623.69 917.92L1626.09 920.1L1631.83 920.1 M1646.9 907.0L1646.9 920.1 M1646.9 913.55L1644.51 911.37L1639.72 911.37L1637.33 913.55L1637.33 917.92L1639.72 920.1L1644.51 920.1L1646.9 917.92" fill="none" stroke-width="1.6" stroke-linecap="round" stroke-linejoin="round"/>
<text x="1531.6" y="967.3" font-family="Liberation Serif, serif" font-size="15.73" font-weight="bold" textLength="139.8" lengthAdjust="spacingAndGlyphs" fill="#0c0c0c" stroke="#0c0c0c" stroke-width="0.35" stroke-linejoin="round">(FOR  FACTORY  USED)</text>
<circle cx="1549.7" cy="361.7" r="21.5" fill="none" stroke-width="1.5"/>
<circle cx="1549.7" cy="361.7" r="10.8" fill="none" stroke-width="1.5"/>
<line x1="1549.7" y1="329.2" x2="1549.7" y2="345.9" stroke-width="1.65" />
<line x1="1549.7" y1="356.1" x2="1549.7" y2="367.5" stroke-width="1.65" />
<line x1="1549.7" y1="377" x2="1549.7" y2="393.8" stroke-width="1.65" />
<line x1="1517.4" y1="361.7" x2="1534.1" y2="361.7" stroke-width="1.65" />
<line x1="1544.3" y1="361.7" x2="1555.1" y2="361.7" stroke-width="1.65" />
<line x1="1565.3" y1="361.7" x2="1586.8" y2="361.7" stroke-width="1.65" />
<polygon points="1586.8,350.9 1656.2,339.9 1656.2,383 1586.8,372.3" fill="none" stroke-width="1.5" />
<line x1="1597" y1="361.7" x2="1607.8" y2="361.7" stroke-width="1.65" />
<line x1="1618.5" y1="361.7" x2="1640.1" y2="361.7" stroke-width="1.65" />
<line x1="1650.3" y1="361.7" x2="1661.6" y2="361.7" stroke-width="1.65" />
<line x1="1671.2" y1="361.7" x2="1683.2" y2="361.7" stroke-width="1.65" />
<polygon points="555.0,564.3 630.3000000000001,564.3 635.1,569.0999999999999 635.1,644.3000000000001 630.3000000000001,649.1 555.0,649.1 550.2,644.3000000000001 550.2,569.0999999999999" fill="none" stroke-width="1.9" />
<line x1="550.2" y1="580.2" x2="635.1" y2="580.2" stroke-width="1.65" />
<line x1="550.2" y1="596" x2="635.1" y2="596" stroke-width="1.65" />
<line x1="555" y1="580.2" x2="555" y2="596" stroke-width="1.4" />
<line x1="630.2" y1="580.2" x2="630.2" y2="596" stroke-width="1.4" />
<circle cx="592.4" cy="606.6" r="34.6" fill="#fff" stroke-width="1.9"/>
<circle cx="592.4" cy="606.6" r="31.7" fill="none" stroke-width="1.5"/>
<circle cx="558.6" cy="572.8" r="5.7" fill="#fff" stroke-width="1.7"/>
<circle cx="626.3" cy="572.8" r="5.7" fill="#fff" stroke-width="1.7"/>
<circle cx="558.6" cy="640.6" r="5.7" fill="#fff" stroke-width="1.7"/>
<circle cx="626.3" cy="640.6" r="5.7" fill="#fff" stroke-width="1.7"/>
<rect x="546.2" y="582.3" width="8.3" height="12.5" fill="#0c0c0c" stroke-width="0.5"/>
<rect x="537" y="586" width="9.5" height="4.6" fill="#0c0c0c" stroke-width="0.5"/>
<rect x="630.7" y="582.3" width="8" height="12.5" fill="#0c0c0c" stroke-width="0.5"/>
<rect x="638.5" y="586" width="9.3" height="4.4" fill="#0c0c0c" stroke-width="0.5"/>
<rect x="584.5" y="641.2" width="16.2" height="8" fill="none" stroke-width="1.4"/>
<rect x="586" y="642.2" width="13.2" height="9" fill="#0c0c0c" stroke-width="0.5"/>
<rect x="590" y="651" width="4.8" height="9.6" fill="#0c0c0c" stroke-width="0.5"/>
<path d="M572.65 587.13L573.9 585.95L573.9 593.05 M572.65 593.05L575.15 593.05" fill="none" stroke-width="1.5" stroke-linecap="round" stroke-linejoin="round"/>
<path d="M608.15 587.13L609.38 585.95L611.82 585.95L613.05 587.13L613.05 588.32L611.82 589.5L609.38 589.5L608.15 590.68L608.15 593.05L613.05 593.05" fill="none" stroke-width="1.5" stroke-linecap="round" stroke-linejoin="round"/>
<path d="M589.85 627.53L591.2 626.35L593.9 626.35L595.25 627.53L595.25 628.72L593.9 629.9L595.25 631.08L595.25 632.27L593.9 633.45L591.2 633.45L589.85 632.27 M591.88 629.9L593.9 629.9" fill="none" stroke-width="1.5" stroke-linecap="round" stroke-linejoin="round"/>
<polygon points="579.5,585.8 597.3,585.8 597.3,583.3 605.3,588.4 597.3,593.6 597.3,591 579.5,591" fill="none" stroke-width="1.3" />
<line x1="550.2" y1="443.5" x2="550.2" y2="561.8" stroke-width="1.65" />
<line x1="634.9" y1="443.5" x2="634.9" y2="563" stroke-width="1.65" />
<line x1="550.2" y1="444.8" x2="568.7" y2="444.8" stroke-width="1.65" />
<line x1="616.8" y1="444.8" x2="634.9" y2="444.8" stroke-width="1.65" />
<polygon points="550.2,444.8 563.7,442.5 563.7,447.1" fill="#0c0c0c" stroke-width="0.6" />
<polygon points="634.9,444.8 621.4,447.1 621.4,442.5" fill="#0c0c0c" stroke-width="0.6" />
<path d="M569.5 440.57L571.69 438.5L571.69 450.9 M569.5 450.9L573.89 450.9 M586.39 438.5L577.62 438.5L577.62 443.67L584.2 443.67L586.39 445.73L586.39 448.83L584.2 450.9L579.81 450.9L577.62 448.83 M590.56 450.9L590.56 449.76 M603.5 443.67L601.3 445.73L596.92 445.73L594.72 443.67L594.72 440.57L596.92 438.5L601.3 438.5L603.5 440.57L603.5 444.7L596.92 450.9 M609.42 450.9L613.81 450.9L616.0 448.83L616.0 440.57L613.81 438.5L609.42 438.5L607.23 440.57L607.23 448.83L609.42 450.9" fill="none" stroke-width="1.6" stroke-linecap="round" stroke-linejoin="round"/>
<line x1="558.8" y1="483.5" x2="558.8" y2="567.5" stroke-width="1.65" />
<line x1="626.7" y1="483.5" x2="626.7" y2="567.3" stroke-width="1.65" />
<line x1="524.1" y1="484.5" x2="558.8" y2="484.5" stroke-width="1.65" />
<polygon points="550.2,484.5 536.7,486.8 536.7,482.2" fill="#0c0c0c" stroke-width="0.6" />
<polygon points="558.4,484.5 544.9,486.8 544.9,482.2" fill="#0c0c0c" stroke-width="0.6" />
<line x1="558.8" y1="484.5" x2="578.5" y2="484.5" stroke-width="1.65" />
<polygon points="558.8,484.5 572.3,482.2 572.3,486.8" fill="#0c0c0c" stroke-width="0.6" />
<line x1="626.7" y1="484.5" x2="653.1" y2="484.5" stroke-width="1.65" />
<polygon points="626.9,484.5 640.4,482.2 640.4,486.8" fill="#0c0c0c" stroke-width="0.6" />
<path d="M489.7 481.0L491.87 479.0L491.87 491.0 M489.7 491.0L494.04 491.0 M498.15 491.0L498.15 489.9 M502.27 486.0L504.44 484.0L508.78 484.0L510.94 486.0L510.94 489.0L508.78 491.0L504.44 491.0L502.27 489.0L502.27 485.0L508.78 479.0 M516.8 491.0L521.13 491.0L523.3 489.0L523.3 481.0L521.13 479.0L516.8 479.0L514.63 481.0L514.63 489.0L516.8 491.0" fill="none" stroke-width="1.6" stroke-linecap="round" stroke-linejoin="round"/>
<path d="M569.5 480.67L571.69 478.6L571.69 491.0 M569.5 491.0L573.89 491.0 M577.62 480.67L579.81 478.6L584.2 478.6L586.39 480.67L586.39 482.73L584.2 484.8L579.81 484.8L577.62 486.87L577.62 491.0L586.39 491.0 M590.56 491.0L590.56 489.86 M594.72 478.6L603.5 478.6L596.04 491.0 M609.42 491.0L613.81 491.0L616.0 488.93L616.0 480.67L613.81 478.6L609.42 478.6L607.23 480.67L607.23 488.93L609.42 491.0" fill="none" stroke-width="1.6" stroke-linecap="round" stroke-linejoin="round"/>
<line x1="611.4" y1="505.7" x2="638.7" y2="505.7" stroke-width="1.65" />
<polygon points="638.7,505.7 625.2,508.0 625.2,503.4" fill="#0c0c0c" stroke-width="0.6" />
<line x1="638.7" y1="504.4" x2="638.7" y2="563.2" stroke-width="1.65" />
<line x1="647.6" y1="504.4" x2="647.6" y2="585.8" stroke-width="1.65" />
<line x1="647.6" y1="505.7" x2="673.6" y2="505.7" stroke-width="1.65" />
<polygon points="647.6,505.7 661.1,503.4 661.1,508.0" fill="#0c0c0c" stroke-width="0.6" />
<path d="M674.4 501.63L676.55 499.6L676.55 511.8 M674.4 511.8L678.7 511.8 M682.78 511.8L682.78 510.68 M689.01 505.7L686.86 503.67L686.86 501.63L689.01 499.6L693.31 499.6L695.45 501.63L695.45 503.67L693.31 505.7L689.01 505.7L686.86 507.73L686.86 509.77L689.01 511.8L693.31 511.8L695.45 509.77L695.45 507.73L693.31 505.7 M701.25 511.8L705.55 511.8L707.7 509.77L707.7 501.63L705.55 499.6L701.25 499.6L699.11 501.63L699.11 509.77L701.25 511.8" fill="none" stroke-width="1.6" stroke-linecap="round" stroke-linejoin="round"/>
<path d="M484.2 534.13L486.37 532.1L486.37 544.3 M484.2 544.3L488.54 544.3 M492.65 544.3L492.65 543.18 M496.77 539.22L498.94 537.18L503.28 537.18L505.44 539.22L505.44 542.27L503.28 544.3L498.94 544.3L496.77 542.27L496.77 538.2L503.28 532.1 M511.3 544.3L515.63 544.3L517.8 542.27L517.8 534.13L515.63 532.1L511.3 532.1L509.13 534.13L509.13 542.27L511.3 544.3" fill="none" stroke-width="1.6" stroke-linecap="round" stroke-linejoin="round"/>
<line x1="470.5" y1="537.9" x2="483.4" y2="537.9" stroke-width="1.65" />
<line x1="470.5" y1="537.9" x2="470.5" y2="564.3" stroke-width="1.65" />
<polygon points="470.5,564.3 468.2,550.8 472.8,550.8" fill="#0c0c0c" stroke-width="0.6" />
<line x1="389" y1="564.3" x2="547.7" y2="564.3" stroke-width="1.65" />
<line x1="389" y1="649.1" x2="547.7" y2="649.1" stroke-width="1.65" />
<line x1="390.9" y1="564.3" x2="390.9" y2="598.4" stroke-width="1.65" />
<line x1="390.9" y1="612.2" x2="390.9" y2="649.1" stroke-width="1.65" />
<polygon points="390.9,564.3 393.2,577.8 388.6,577.8" fill="#0c0c0c" stroke-width="0.6" />
<polygon points="390.9,649.1 388.6,635.6 393.2,635.6" fill="#0c0c0c" stroke-width="0.6" />
<path d="M367.7 602.32L369.9 600.1L369.9 613.4 M367.7 613.4L372.11 613.4 M384.66 600.1L375.85 600.1L375.85 605.64L382.46 605.64L384.66 607.86L384.66 611.18L382.46 613.4L378.05 613.4L375.85 611.18 M388.85 613.4L388.85 612.18 M401.84 605.64L399.64 607.86L395.24 607.86L393.03 605.64L393.03 602.32L395.24 600.1L399.64 600.1L401.84 602.32L401.84 606.75L395.24 613.4 M407.79 613.4L412.2 613.4L414.4 611.18L414.4 602.32L412.2 600.1L407.79 600.1L405.59 602.32L405.59 611.18L407.79 613.4" fill="none" stroke-width="1.6" stroke-linecap="round" stroke-linejoin="round"/>
<line x1="469.2" y1="572.5" x2="559" y2="572.5" stroke-width="1.65" />
<line x1="469.2" y1="640.8" x2="553" y2="640.8" stroke-width="1.65" />
<line x1="470.5" y1="572.5" x2="470.5" y2="598.4" stroke-width="1.65" />
<line x1="470.5" y1="612.2" x2="470.5" y2="640.8" stroke-width="1.65" />
<polygon points="470.5,572.5 472.8,586.0 468.2,586.0" fill="#0c0c0c" stroke-width="0.6" />
<polygon points="470.5,640.8 468.2,627.3 472.8,627.3" fill="#0c0c0c" stroke-width="0.6" />
<path d="M446.8 602.32L449.03 600.1L449.03 613.4 M446.8 613.4L451.25 613.4 M455.04 602.32L457.26 600.1L461.72 600.1L463.94 602.32L463.94 604.53L461.72 606.75L457.26 606.75L455.04 608.97L455.04 613.4L463.94 613.4 M468.17 613.4L468.17 612.18 M472.4 600.1L481.31 600.1L473.74 613.4 M487.32 613.4L491.77 613.4L494.0 611.18L494.0 602.32L491.77 600.1L487.32 600.1L485.09 602.32L485.09 611.18L487.32 613.4" fill="none" stroke-width="1.6" stroke-linecap="round" stroke-linejoin="round"/>
<line x1="637.3" y1="564.2" x2="723.6" y2="564.2" stroke-width="1.65" />
<line x1="647.6" y1="587.9" x2="723.6" y2="587.9" stroke-width="1.65" />
<line x1="637.3" y1="649.1" x2="723.6" y2="649.1" stroke-width="1.65" />
<line x1="722.3" y1="537.4" x2="722.3" y2="564.2" stroke-width="1.65" />
<polygon points="722.3,564.2 720.0,550.7 724.6,550.7" fill="#0c0c0c" stroke-width="0.6" />
<line x1="722.3" y1="587.9" x2="722.3" y2="613.4" stroke-width="1.65" />
<line x1="722.3" y1="625.7" x2="722.3" y2="649.1" stroke-width="1.65" />
<polygon points="722.3,587.9 724.6,601.4 720.0,601.4" fill="#0c0c0c" stroke-width="0.6" />
<polygon points="722.3,649.1 720.0,635.6 724.6,635.6" fill="#0c0c0c" stroke-width="0.6" />
<path d="M709.74 582.8L709.74 570.4L703.0 578.67L711.98 578.67 M716.25 582.8L716.25 581.66 M727.25 582.8L727.25 570.4L720.52 578.67L729.5 578.67 M742.3 570.4L733.32 570.4L733.32 575.57L740.05 575.57L742.3 577.63L742.3 580.73L740.05 582.8L735.56 582.8L733.32 580.73" fill="none" stroke-width="1.6" stroke-linecap="round" stroke-linejoin="round"/>
<path d="M700.1 614.53L702.43 612.4L702.43 625.2 M700.1 625.2L704.76 625.2 M708.71 614.53L711.04 612.4L711.04 625.2 M708.71 625.2L713.37 625.2 M717.79 625.2L717.79 624.03 M729.2 625.2L729.2 612.4L722.22 620.93L731.53 620.93 M744.8 612.4L735.49 612.4L735.49 617.73L742.47 617.73L744.8 619.87L744.8 623.07L742.47 625.2L737.82 625.2L735.49 623.07" fill="none" stroke-width="1.6" stroke-linecap="round" stroke-linejoin="round"/>
<rect x="761.8" y="573.2" width="1.2" height="1.2" fill="#8a8a8a" style="stroke:none"/>
<line x1="675.2" y1="342" x2="687.5" y2="342" stroke-width="1.4" />
<line x1="675.2" y1="342" x2="627.3" y2="567" stroke-width="1.4" />
<polygon points="627.1,567.6 627.57,553.9 632.26,554.9" fill="#0c0c0c" stroke-width="0.6" />
<line x1="729" y1="390.3" x2="740.5" y2="390.3" stroke-width="1.4" />
<line x1="729" y1="390.3" x2="634.2" y2="565" stroke-width="1.4" />
<polygon points="633.9,565.5 638.23,552.49 642.45,554.78" fill="#0c0c0c" stroke-width="0.6" />
<line x1="761.9" y1="435.5" x2="774.2" y2="435.5" stroke-width="1.4" />
<line x1="761.9" y1="435.5" x2="645" y2="586" stroke-width="1.4" />
<polygon points="644.7,586.4 651.09,574.27 654.88,577.21" fill="#0c0c0c" stroke-width="0.6" />
<path d="M688.3 346.5L694.71 346.5L696.85 344.27L696.85 335.33L694.71 333.1L688.3 333.1 M689.58 346.5L689.58 333.1 M700.91 346.5L700.91 337.57 M700.91 334.89L700.91 333.55 M712.66 339.8L710.52 337.57L707.1 337.57L704.96 339.8L704.96 344.27L707.1 346.5L710.52 346.5L712.66 344.27 M712.66 337.57L712.66 344.27L714.15 346.5 M718.21 346.5L718.21 345.27 M722.27 335.33L724.41 333.1L728.68 333.1L730.82 335.33L730.82 337.57L728.68 339.8L724.41 339.8L722.27 342.03L722.27 346.5L730.82 346.5 M734.87 346.5L734.87 345.27 M738.93 335.33L741.07 333.1L741.07 346.5 M738.93 346.5L743.21 346.5 M748.98 346.5L753.25 346.5L755.38 344.27L755.38 335.33L753.25 333.1L748.98 333.1L746.84 335.33L746.84 344.27L748.98 346.5 M759.02 337.57L759.02 346.5 M759.02 339.35L760.73 337.57L762.86 337.57L764.36 339.35L764.36 346.5 M764.36 339.35L766.07 337.57L767.99 337.57L769.7 339.35L769.7 346.5 M773.33 337.57L773.33 346.5 M773.33 339.35L775.04 337.57L777.18 337.57L778.67 339.35L778.67 346.5 M778.67 339.35L780.38 337.57L782.3 337.57L784.01 339.35L784.01 346.5 M788.07 346.5L788.07 345.27" fill="none" stroke-width="1.6" stroke-linecap="round" stroke-linejoin="round"/>
<path d="M806.0 333.1L815.38 333.1 M810.69 333.1L810.69 346.5 M819.37 333.1L819.37 346.5 M819.37 339.8L821.72 337.57L826.41 337.57L828.76 339.8L828.76 346.5 M832.74 337.57L832.74 346.5 M832.74 340.25L835.56 337.57L839.78 337.57L842.13 339.35 M846.12 337.57L846.12 344.27L848.46 346.5L852.22 346.5L855.5 343.37 M855.5 337.57L855.5 346.5" fill="none" stroke-width="1.6" stroke-linecap="round" stroke-linejoin="round"/>
<path d="M872.2 346.5L872.2 333.1 M881.77 346.5L881.77 333.1 M872.2 339.8L881.77 339.8 M888.23 346.5L893.01 346.5L895.41 344.27L895.41 339.8L893.01 337.57L888.23 337.57L885.84 339.8L885.84 344.27L888.23 346.5 M899.47 333.1L899.47 344.27L901.63 346.5 M905.69 342.03L915.26 342.03L915.26 339.8L912.87 337.57L908.08 337.57L905.69 339.8L905.69 344.27L908.08 346.5L913.83 346.5 M928.9 337.57L921.72 337.57L919.33 339.13L919.33 340.02L928.9 344.04L928.9 344.94L926.51 346.5L919.33 346.5 M934.16 345.16L934.16 346.5L932.96 348.73" fill="none" stroke-width="1.6" stroke-linecap="round" stroke-linejoin="round"/>
<path d="M959.35 346.5L959.35 333.1L952.0 342.03L961.8 342.03" fill="none" stroke-width="1.6" stroke-linecap="round" stroke-linejoin="round"/>
<path d="M978.4 337.57L978.4 350.97 M978.4 339.8L980.75 337.57L985.44 337.57L987.79 339.8L987.79 344.27L985.44 346.5L980.75 346.5L978.4 344.27 M991.79 333.1L991.79 344.27L993.9 346.5 M1007.28 337.57L1000.24 337.57L997.89 339.8L997.89 344.27L1000.24 346.5L1007.28 346.5 M1020.67 337.57L1013.62 337.57L1011.28 339.13L1011.28 340.02L1020.67 344.04L1020.67 344.94L1018.32 346.5L1011.28 346.5 M1025.13 346.5L1025.13 345.27" fill="none" stroke-width="1.6" stroke-linecap="round" stroke-linejoin="round"/>
<path d="M741.3 394.9L741.3 381.5L750.99 381.5 M741.3 388.2L748.56 388.2 M755.59 394.9L755.59 385.97 M755.59 383.29L755.59 381.95 M760.19 381.5L760.19 392.67L762.37 394.9 M766.48 381.5L766.48 392.67L768.66 394.9 M772.78 390.43L782.47 390.43L782.47 388.2L780.04 385.97L775.2 385.97L772.78 388.2L772.78 392.67L775.2 394.9L781.01 394.9 M789.49 381.5L789.49 392.67L791.91 394.9L793.36 394.9L795.3 393.11 M786.58 385.97L795.3 385.97" fill="none" stroke-width="1.6" stroke-linecap="round" stroke-linejoin="round"/>
<path d="M812.9 394.9L812.9 381.5L819.76 381.5L822.05 383.73L822.05 385.97L819.76 388.2L812.9 388.2 M815.65 388.2L822.05 394.9 M834.18 388.2L831.89 385.97L828.23 385.97L825.94 388.2L825.94 392.67L828.23 394.9L831.89 394.9L834.18 392.67 M834.18 385.97L834.18 392.67L835.78 394.9 M848.82 381.5L848.82 394.9 M848.82 388.2L846.53 385.97L841.95 385.97L839.67 388.2L839.67 392.67L841.95 394.9L846.53 394.9L848.82 392.67 M853.16 394.9L853.16 385.97 M853.16 383.29L853.16 381.95 M857.51 385.97L857.51 392.67L859.8 394.9L863.46 394.9L866.66 391.77 M866.66 385.97L866.66 394.9 M879.7 385.97L872.84 385.97L870.55 387.53L870.55 388.42L879.7 392.44L879.7 393.34L877.41 394.9L870.55 394.9" fill="none" stroke-width="1.6" stroke-linecap="round" stroke-linejoin="round"/>
<path d="M896.3 383.73L898.53 381.5L898.53 394.9 M896.3 394.9L900.77 394.9 M906.79 394.9L911.26 394.9L913.49 392.67L913.49 383.73L911.26 381.5L906.79 381.5L904.56 383.73L904.56 392.67L906.79 394.9 M917.73 394.9L917.73 393.67 M921.97 389.32L924.21 387.08L928.67 387.08L930.9 389.32L930.9 392.67L928.67 394.9L924.21 394.9L921.97 392.67L921.97 388.2L928.67 381.5 M941.4 394.9L941.4 381.5L934.7 390.43L943.63 390.43 M947.43 385.97L947.43 394.9 M947.43 387.75L949.21 385.97L951.44 385.97L953.01 387.75L953.01 394.9 M953.01 387.75L954.79 385.97L956.8 385.97L958.59 387.75L958.59 394.9 M962.38 385.97L962.38 394.9 M962.38 387.75L964.17 385.97L966.4 385.97L967.97 387.75L967.97 394.9 M967.97 387.75L969.75 385.97L971.76 385.97L973.55 387.75L973.55 394.9 M977.79 394.9L977.79 393.67 M982.03 381.5L990.96 381.5 M986.5 381.5L986.5 394.9 M994.76 385.97L999.22 394.9 M1003.69 385.97L996.99 399.37 M1007.48 385.97L1007.48 399.37 M1007.48 388.2L1009.71 385.97L1014.18 385.97L1016.41 388.2L1016.41 392.67L1014.18 394.9L1009.71 394.9L1007.48 392.67 M1020.65 394.9L1020.65 393.67" fill="none" stroke-width="1.6" stroke-linecap="round" stroke-linejoin="round"/>
<path d="M1041.1 393.56L1041.1 394.9L1038.6 397.13" fill="none" stroke-width="1.6" stroke-linecap="round" stroke-linejoin="round"/>
<path d="M1065.15 394.9L1065.15 381.5L1057.8 390.43L1067.6 390.43" fill="none" stroke-width="1.6" stroke-linecap="round" stroke-linejoin="round"/>
<path d="M1083.3 385.97L1083.3 399.37 M1083.3 388.2L1085.65 385.97L1090.34 385.97L1092.69 388.2L1092.69 392.67L1090.34 394.9L1085.65 394.9L1083.3 392.67 M1096.69 381.5L1096.69 392.67L1098.8 394.9 M1112.18 385.97L1105.14 385.97L1102.79 388.2L1102.79 392.67L1105.14 394.9L1112.18 394.9 M1125.57 385.97L1118.52 385.97L1116.18 387.53L1116.18 388.42L1125.57 392.44L1125.57 393.34L1123.22 394.9L1116.18 394.9 M1130.03 394.9L1130.03 393.67" fill="none" stroke-width="1.6" stroke-linecap="round" stroke-linejoin="round"/>
<path d="M775.6 440.1L782.64 440.1L784.98 437.87L784.98 435.63L782.64 433.4L784.98 431.17L784.98 428.93L782.64 426.7L775.6 426.7 M777.01 440.1L777.01 426.7 M777.01 433.4L782.64 433.4 M788.97 435.63L798.36 435.63L798.36 433.4L796.01 431.17L791.32 431.17L788.97 433.4L788.97 437.87L791.32 440.1L796.95 440.1 M811.73 428.93L809.39 426.7L804.69 426.7L802.35 428.93L802.35 437.87L804.69 440.1L809.39 440.1L811.73 437.87 M815.72 431.17L815.72 437.87L818.07 440.1L821.82 440.1L825.11 436.97 M825.11 431.17L825.11 440.1 M829.09 440.1L838.48 426.7 M851.85 428.93L849.51 426.7L844.81 426.7L842.47 428.93L842.47 437.87L844.81 440.1L851.85 440.1L851.85 434.52L847.16 434.52 M858.19 440.1L862.88 440.1L865.23 437.87L865.23 433.4L862.88 431.17L858.19 431.17L855.84 433.4L855.84 437.87L858.19 440.1 M869.21 426.7L869.21 437.87L871.33 440.1 M884.7 426.7L884.7 440.1 M884.7 433.4L882.35 431.17L877.66 431.17L875.32 433.4L875.32 437.87L877.66 440.1L882.35 440.1L884.7 437.87" fill="none" stroke-width="1.6" stroke-linecap="round" stroke-linejoin="round"/>
<path d="M901.5 440.1L901.5 426.7L908.65 426.7L911.03 428.93L911.03 431.17L908.65 433.4L901.5 433.4 M915.08 426.7L915.08 437.87L917.22 440.1 M929.85 433.4L927.47 431.17L923.65 431.17L921.27 433.4L921.27 437.87L923.65 440.1L927.47 440.1L929.85 437.87 M929.85 431.17L929.85 437.87L931.52 440.1 M938.42 426.7L938.42 437.87L940.81 440.1L942.24 440.1L944.14 438.31 M935.57 431.17L944.14 431.17 M948.19 435.63L957.72 435.63L957.72 433.4L955.34 431.17L950.57 431.17L948.19 433.4L948.19 437.87L950.57 440.1L956.29 440.1 M971.3 426.7L971.3 440.1 M971.3 433.4L968.92 431.17L964.15 431.17L961.77 433.4L961.77 437.87L964.15 440.1L968.92 440.1L971.3 437.87" fill="none" stroke-width="1.6" stroke-linecap="round" stroke-linejoin="round"/>
<path d="M987.7 426.7L996.84 426.7 M992.27 426.7L992.27 440.1 M1008.95 433.4L1006.67 431.17L1003.01 431.17L1000.72 433.4L1000.72 437.87L1003.01 440.1L1006.67 440.1L1008.95 437.87 M1008.95 431.17L1008.95 437.87L1010.55 440.1 M1014.43 426.7L1014.43 440.1 M1014.43 433.4L1016.72 431.17L1021.29 431.17L1023.57 433.4L1023.57 437.87L1021.29 440.1L1016.72 440.1L1014.43 437.87 M1028.6 438.76L1028.6 440.1L1027.46 442.33 M1035.0 440.1L1039.57 440.1L1041.85 437.87L1041.85 428.93L1039.57 426.7L1035.0 426.7L1032.71 428.93L1032.71 437.87L1035.0 440.1 M1046.19 440.1L1046.19 438.87 M1050.54 434.52L1052.82 432.28L1057.39 432.28L1059.68 434.52L1059.68 437.87L1057.39 440.1L1052.82 440.1L1050.54 437.87L1050.54 433.4L1057.39 426.7 M1070.42 440.1L1070.42 426.7L1063.56 435.63L1072.7 435.63" fill="none" stroke-width="1.6" stroke-linecap="round" stroke-linejoin="round"/>
<path d="M1076.5 426.7L1078.87 440.1L1081.23 432.28L1083.6 440.1L1085.97 426.7 M1090.46 440.1L1090.46 431.17 M1090.46 428.49L1090.46 427.15 M1104.42 426.7L1104.42 440.1 M1104.42 433.4L1102.06 431.17L1097.32 431.17L1094.96 433.4L1094.96 437.87L1097.32 440.1L1102.06 440.1L1104.42 437.87 M1108.45 435.63L1117.91 435.63L1117.91 433.4L1115.54 431.17L1110.81 431.17L1108.45 433.4L1108.45 437.87L1110.81 440.1L1116.49 440.1 M1121.93 440.1L1131.4 426.7 M1121.93 426.7L1131.4 440.1 M1135.42 428.93L1137.79 426.7L1137.79 440.1 M1135.42 440.1L1140.15 440.1 M1144.65 440.1L1144.65 438.87 M1151.51 433.4L1149.15 431.17L1149.15 428.93L1151.51 426.7L1156.25 426.7L1158.61 428.93L1158.61 431.17L1156.25 433.4L1151.51 433.4L1149.15 435.63L1149.15 437.87L1151.51 440.1L1156.25 440.1L1158.61 437.87L1158.61 435.63L1156.25 433.4 M1165.0 440.1L1169.73 440.1L1172.1 437.87L1172.1 428.93L1169.73 426.7L1165.0 426.7L1162.63 428.93L1162.63 437.87L1165.0 440.1" fill="none" stroke-width="1.6" stroke-linecap="round" stroke-linejoin="round"/>
<path d="M1175.1 426.7L1175.1 440.1L1184.09 440.1 M1190.17 440.1L1194.66 440.1L1196.91 437.87L1196.91 433.4L1194.66 431.17L1190.17 431.17L1187.92 433.4L1187.92 437.87L1190.17 440.1 M1200.74 431.17L1200.74 440.1 M1200.74 433.4L1202.98 431.17L1207.48 431.17L1209.73 433.4L1209.73 440.1 M1222.55 433.4L1220.3 431.17L1215.8 431.17L1213.55 433.4L1213.55 437.87L1215.8 440.1L1220.3 440.1L1222.55 437.87 M1222.55 431.17L1222.55 442.33L1220.3 444.57L1215.8 444.57L1214.23 443.23 M1226.37 440.1L1235.37 426.7 M1226.37 426.7L1235.37 440.1 M1241.44 440.1L1245.94 440.1L1248.18 437.87L1248.18 428.93L1245.94 426.7L1241.44 426.7L1239.19 428.93L1239.19 437.87L1241.44 440.1 M1252.46 440.1L1252.46 438.87 M1256.73 428.93L1258.98 426.7L1258.98 440.1 M1256.73 440.1L1261.23 440.1 M1265.05 428.93L1267.3 426.7L1271.8 426.7L1274.04 428.93L1274.04 431.17L1271.8 433.4L1274.04 435.63L1274.04 437.87L1271.8 440.1L1267.3 440.1L1265.05 437.87 M1268.42 433.4L1271.8 433.4 M1277.87 431.17L1277.87 440.1 M1277.87 432.95L1279.67 431.17L1281.92 431.17L1283.49 432.95L1283.49 440.1 M1283.49 432.95L1285.29 431.17L1287.31 431.17L1289.11 432.95L1289.11 440.1 M1292.93 431.17L1292.93 440.1 M1292.93 432.95L1294.73 431.17L1296.98 431.17L1298.56 432.95L1298.56 440.1 M1298.56 432.95L1300.35 431.17L1302.38 431.17L1304.18 432.95L1304.18 440.1 M1308.45 440.1L1308.45 438.87" fill="none" stroke-width="1.6" stroke-linecap="round" stroke-linejoin="round"/>
<path d="M1311.5 426.7L1320.79 426.7 M1316.15 426.7L1316.15 440.1 M1324.74 426.7L1324.74 440.1 M1324.74 433.4L1327.07 431.17L1331.71 431.17L1334.04 433.4L1334.04 440.1 M1338.45 440.1L1338.45 431.17 M1338.45 428.49L1338.45 427.15 M1352.16 431.17L1345.19 431.17L1342.86 433.4L1342.86 437.87L1345.19 440.1L1352.16 440.1 M1356.11 426.7L1356.11 440.1 M1356.11 436.53L1364.47 431.17 M1359.59 434.29L1365.4 440.1" fill="none" stroke-width="1.6" stroke-linecap="round" stroke-linejoin="round"/>
<line x1="829.8" y1="483.5" x2="829.8" y2="648.9" stroke-width="1.9" />
<line x1="863.9" y1="483.5" x2="863.9" y2="648.9" stroke-width="1.9" />
<line x1="829.8" y1="564.3" x2="863.9" y2="564.3" stroke-width="1.9" />
<line x1="829.8" y1="568.6" x2="863.9" y2="568.6" stroke-width="1.5" />
<line x1="829.8" y1="648.9" x2="863.9" y2="648.9" stroke-width="1.9" />
<line x1="829.8" y1="644.5" x2="863.9" y2="644.5" stroke-width="1.5" />
<rect x="829.8" y="580.6" width="16.7" height="15.6" fill="none" stroke-width="1.5"/>
<rect x="833.5" y="582.5" width="9.8" height="11.8" fill="none" stroke-width="1.1"/>
<rect x="843.5" y="584.2" width="20.4" height="8" fill="#0c0c0c" stroke-width="0.5"/>
<polyline points="846.5,649 846.5,652.5 863,652.5 863,662.2" fill="none" stroke-width="2" />
<line x1="829.8" y1="484.3" x2="876.3" y2="484.3" stroke-width="1.65" />
<polygon points="829.8,484.3 843.3,482.0 843.3,486.6" fill="#0c0c0c" stroke-width="0.6" />
<polygon points="863.9,484.3 850.4,486.6 850.4,482.0" fill="#0c0c0c" stroke-width="0.6" />
<path d="M877.4 485.78L879.67 483.62L884.22 483.62L886.5 485.78L886.5 489.03L884.22 491.2L879.67 491.2L877.4 489.03L877.4 484.7L884.22 478.2 M890.82 491.2L890.82 490.01 M895.14 480.37L897.41 478.2L901.96 478.2L904.24 480.37L904.24 482.53L901.96 484.7L904.24 486.87L904.24 489.03L901.96 491.2L897.41 491.2L895.14 489.03 M898.55 484.7L901.96 484.7 M917.2 478.2L908.1 478.2L908.1 483.62L914.93 483.62L917.2 485.78L917.2 489.03L914.93 491.2L910.38 491.2L908.1 489.03" fill="none" stroke-width="1.6" stroke-linecap="round" stroke-linejoin="round"/>
<path d="M934.7 491.2L934.7 478.2L939.31 485.78L943.91 478.2L943.91 491.2 M956.12 484.7L953.82 482.53L950.13 482.53L947.83 484.7L947.83 489.03L950.13 491.2L953.82 491.2L956.12 489.03 M956.12 482.53L956.12 489.03L957.73 491.2 M961.65 491.2L970.86 482.53 M961.65 482.53L970.86 491.2 M975.24 491.2L975.24 490.01" fill="none" stroke-width="1.6" stroke-linecap="round" stroke-linejoin="round"/>
<line x1="820.4" y1="532.4" x2="847.5" y2="532.4" stroke-width="1.65" />
<polygon points="847.5,532.4 834.0,534.7 834.0,530.1" fill="#0c0c0c" stroke-width="0.6" />
<line x1="847.5" y1="531" x2="847.5" y2="562.5" stroke-width="1.65" />
<line x1="864.2" y1="532.4" x2="889.6" y2="532.4" stroke-width="1.65" />
<polygon points="864.2,532.4 877.7,530.1 877.7,534.7" fill="#0c0c0c" stroke-width="0.6" />
<path d="M890.4 525.98L892.69 523.8L897.27 523.8L899.57 525.98L899.57 528.17L897.27 530.35L899.57 532.53L899.57 534.72L897.27 536.9L892.69 536.9L890.4 534.72 M893.84 530.35L897.27 530.35 M903.92 536.9L903.92 535.7 M910.57 536.9L915.15 536.9L917.44 534.72L917.44 525.98L915.15 523.8L910.57 523.8L908.27 525.98L908.27 534.72L910.57 536.9 M930.5 523.8L921.34 523.8L921.34 529.26L928.21 529.26L930.5 531.44L930.5 534.72L928.21 536.9L923.63 536.9L921.34 534.72 M934.4 523.8L943.57 523.8 M938.98 523.8L938.98 536.9 M947.46 528.17L952.05 536.9 M956.63 528.17L949.75 541.27 M960.52 528.17L960.52 541.27 M960.52 530.35L962.82 528.17L967.4 528.17L969.69 530.35L969.69 534.72L967.4 536.9L962.82 536.9L960.52 534.72 M974.05 536.9L974.05 535.7 M978.4 523.8L987.57 523.8 M982.98 523.8L982.98 536.9 M999.71 530.35L997.42 528.17L993.75 528.17L991.46 530.35L991.46 534.72L993.75 536.9L997.42 536.9L999.71 534.72 M999.71 528.17L999.71 534.72L1001.32 536.9 M1005.21 523.8L1005.21 536.9 M1005.21 530.35L1007.5 528.17L1012.09 528.17L1014.38 530.35L1014.38 534.72L1012.09 536.9L1007.5 536.9L1005.21 534.72 M1018.73 536.9L1018.73 535.7 M1023.09 536.9L1023.09 523.8 M1032.25 536.9L1032.25 523.8 M1023.09 530.35L1032.25 530.35 M1036.15 532.53L1045.32 532.53L1045.32 530.35L1043.03 528.17L1038.44 528.17L1036.15 530.35L1036.15 534.72L1038.44 536.9L1043.94 536.9 M1049.67 536.9L1049.67 528.17 M1049.67 525.55L1049.67 524.24 M1063.19 530.35L1060.9 528.17L1056.32 528.17L1054.03 530.35L1054.03 534.72L1056.32 536.9L1060.9 536.9L1063.19 534.72 M1063.19 528.17L1063.19 539.08L1060.9 541.27L1056.32 541.27L1054.71 539.96 M1067.09 523.8L1067.09 536.9 M1067.09 530.35L1069.38 528.17L1073.96 528.17L1076.25 530.35L1076.25 536.9 M1082.9 523.8L1082.9 534.72L1085.19 536.9L1086.57 536.9L1088.4 535.15 M1080.15 528.17L1088.4 528.17" fill="none" stroke-width="1.6" stroke-linecap="round" stroke-linejoin="round"/>
<line x1="358.6" y1="822.8" x2="635.2" y2="822.8" stroke-width="1.9" />
<line x1="358.6" y1="856.6" x2="550.6" y2="856.6" stroke-width="1.9" />
<line x1="550.6" y1="822.8" x2="550.6" y2="856.6" stroke-width="1.9" />
<line x1="555" y1="822.8" x2="555" y2="856.6" stroke-width="1.5" />
<line x1="635.2" y1="822.8" x2="635.2" y2="856.6" stroke-width="1.9" />
<line x1="630.8" y1="822.8" x2="630.8" y2="856.6" stroke-width="1.5" />
<line x1="550.6" y1="856.6" x2="755.3" y2="856.6" stroke-width="1.9" />
<line x1="646.8" y1="840.7" x2="755.3" y2="840.7" stroke-width="1.9" />
<polyline points="537,856.6 546.6,856.6 546.6,840.3 550.6,840.3" fill="none" stroke-width="2" />
<polyline points="635.2,840.3 639.2,840.3 639.2,856.6 647.8,856.6" fill="none" stroke-width="2" />
<rect x="584.5" y="822.8" width="15.9" height="16.1" fill="none" stroke-width="1.5"/>
<line x1="584.5" y1="826.3" x2="600.4" y2="826.3" stroke-width="1.2" />
<rect x="586.3" y="836" width="12.7" height="3" fill="#0c0c0c" stroke-width="0.5"/>
<rect x="588.1" y="838" width="8.9" height="18.6" fill="#0c0c0c" stroke-width="0.5"/>
<line x1="358.6" y1="809.6" x2="358.6" y2="856.6" stroke-width="1.65" />
<line x1="358.6" y1="809.6" x2="371.8" y2="809.6" stroke-width="1.65" />
<polygon points="358.6,823.4 361.0,835.9 356.2,835.9" fill="#0c0c0c" stroke-width="0.6" />
<polygon points="358.6,856.0 356.2,843.5 361.0,843.5" fill="#0c0c0c" stroke-width="0.6" />
<path d="M372.2 810.74L374.51 808.56L379.13 808.56L381.43 810.74L381.43 814.02L379.13 816.2L374.51 816.2L372.2 814.02L372.2 809.65L379.13 803.1 M385.82 816.2L385.82 815.0 M390.21 805.28L392.52 803.1L397.13 803.1L399.44 805.28L399.44 807.47L397.13 809.65L399.44 811.83L399.44 814.02L397.13 816.2L392.52 816.2L390.21 814.02 M393.67 809.65L397.13 809.65 M412.6 803.1L403.37 803.1L403.37 808.56L410.29 808.56L412.6 810.74L412.6 814.02L410.29 816.2L405.67 816.2L403.37 814.02" fill="none" stroke-width="1.6" stroke-linecap="round" stroke-linejoin="round"/>
<path d="M429.8 816.2L429.8 803.1L434.35 810.74L438.9 803.1L438.9 816.2 M450.96 809.65L448.68 807.47L445.04 807.47L442.77 809.65L442.77 814.02L445.04 816.2L448.68 816.2L450.96 814.02 M450.96 807.47L450.96 814.02L452.55 816.2 M456.42 816.2L465.52 807.47 M456.42 807.47L465.52 816.2 M469.84 816.2L469.84 815.0" fill="none" stroke-width="1.6" stroke-linecap="round" stroke-linejoin="round"/>
<line x1="754.6" y1="813.4" x2="754.6" y2="840.4" stroke-width="1.65" />
<line x1="754.6" y1="813.4" x2="767.2" y2="813.4" stroke-width="1.65" />
<polygon points="754.6,840.4 752.3,827.6 756.9,827.6" fill="#0c0c0c" stroke-width="0.6" />
<line x1="754.6" y1="857" x2="754.6" y2="883.7" stroke-width="1.65" />
<polygon points="754.6,857 756.9,870.6 752.3,870.6" fill="#0c0c0c" stroke-width="0.6" />
<path d="M768.0 807.28L770.29 805.1L774.88 805.1L777.18 807.28L777.18 809.47L774.88 811.65L777.18 813.83L777.18 816.02L774.88 818.2L770.29 818.2L768.0 816.02 M771.44 811.65L774.88 811.65 M781.53 818.2L781.53 817.0 M788.19 818.2L792.77 818.2L795.07 816.02L795.07 807.28L792.77 805.1L788.19 805.1L785.89 807.28L785.89 816.02L788.19 818.2 M808.14 805.1L798.97 805.1L798.97 810.56L805.85 810.56L808.14 812.74L808.14 816.02L805.85 818.2L801.26 818.2L798.97 816.02 M812.04 805.1L821.22 805.1 M816.63 805.1L816.63 818.2 M825.12 809.47L829.71 818.2 M834.3 809.47L827.41 822.57 M838.2 809.47L838.2 822.57 M838.2 811.65L840.49 809.47L845.08 809.47L847.37 811.65L847.37 816.02L845.08 818.2L840.49 818.2L838.2 816.02 M851.73 818.2L851.73 817.0 M856.09 805.1L865.26 805.1 M860.68 805.1L860.68 818.2 M877.42 811.65L875.13 809.47L871.46 809.47L869.16 811.65L869.16 816.02L871.46 818.2L875.13 818.2L877.42 816.02 M877.42 809.47L877.42 816.02L879.03 818.2 M882.93 805.1L882.93 818.2 M882.93 811.65L885.22 809.47L889.81 809.47L892.1 811.65L892.1 816.02L889.81 818.2L885.22 818.2L882.93 816.02 M896.46 818.2L896.46 817.0 M900.82 818.2L900.82 805.1 M910.0 818.2L910.0 805.1 M900.82 811.65L910.0 811.65 M913.9 813.83L923.07 813.83L923.07 811.65L920.78 809.47L916.19 809.47L913.9 811.65L913.9 816.02L916.19 818.2L921.7 818.2 M927.43 818.2L927.43 809.47 M927.43 806.85L927.43 805.54 M940.97 811.65L938.67 809.47L934.08 809.47L931.79 811.65L931.79 816.02L934.08 818.2L938.67 818.2L940.97 816.02 M940.97 809.47L940.97 820.38L938.67 822.57L934.08 822.57L932.48 821.26 M944.87 805.1L944.87 818.2 M944.87 811.65L947.16 809.47L951.75 809.47L954.04 811.65L954.04 818.2 M960.69 805.1L960.69 816.02L962.99 818.2L964.36 818.2L966.2 816.45 M957.94 809.47L966.2 809.47" fill="none" stroke-width="1.6" stroke-linecap="round" stroke-linejoin="round"/>
</svg>
</body></html>
